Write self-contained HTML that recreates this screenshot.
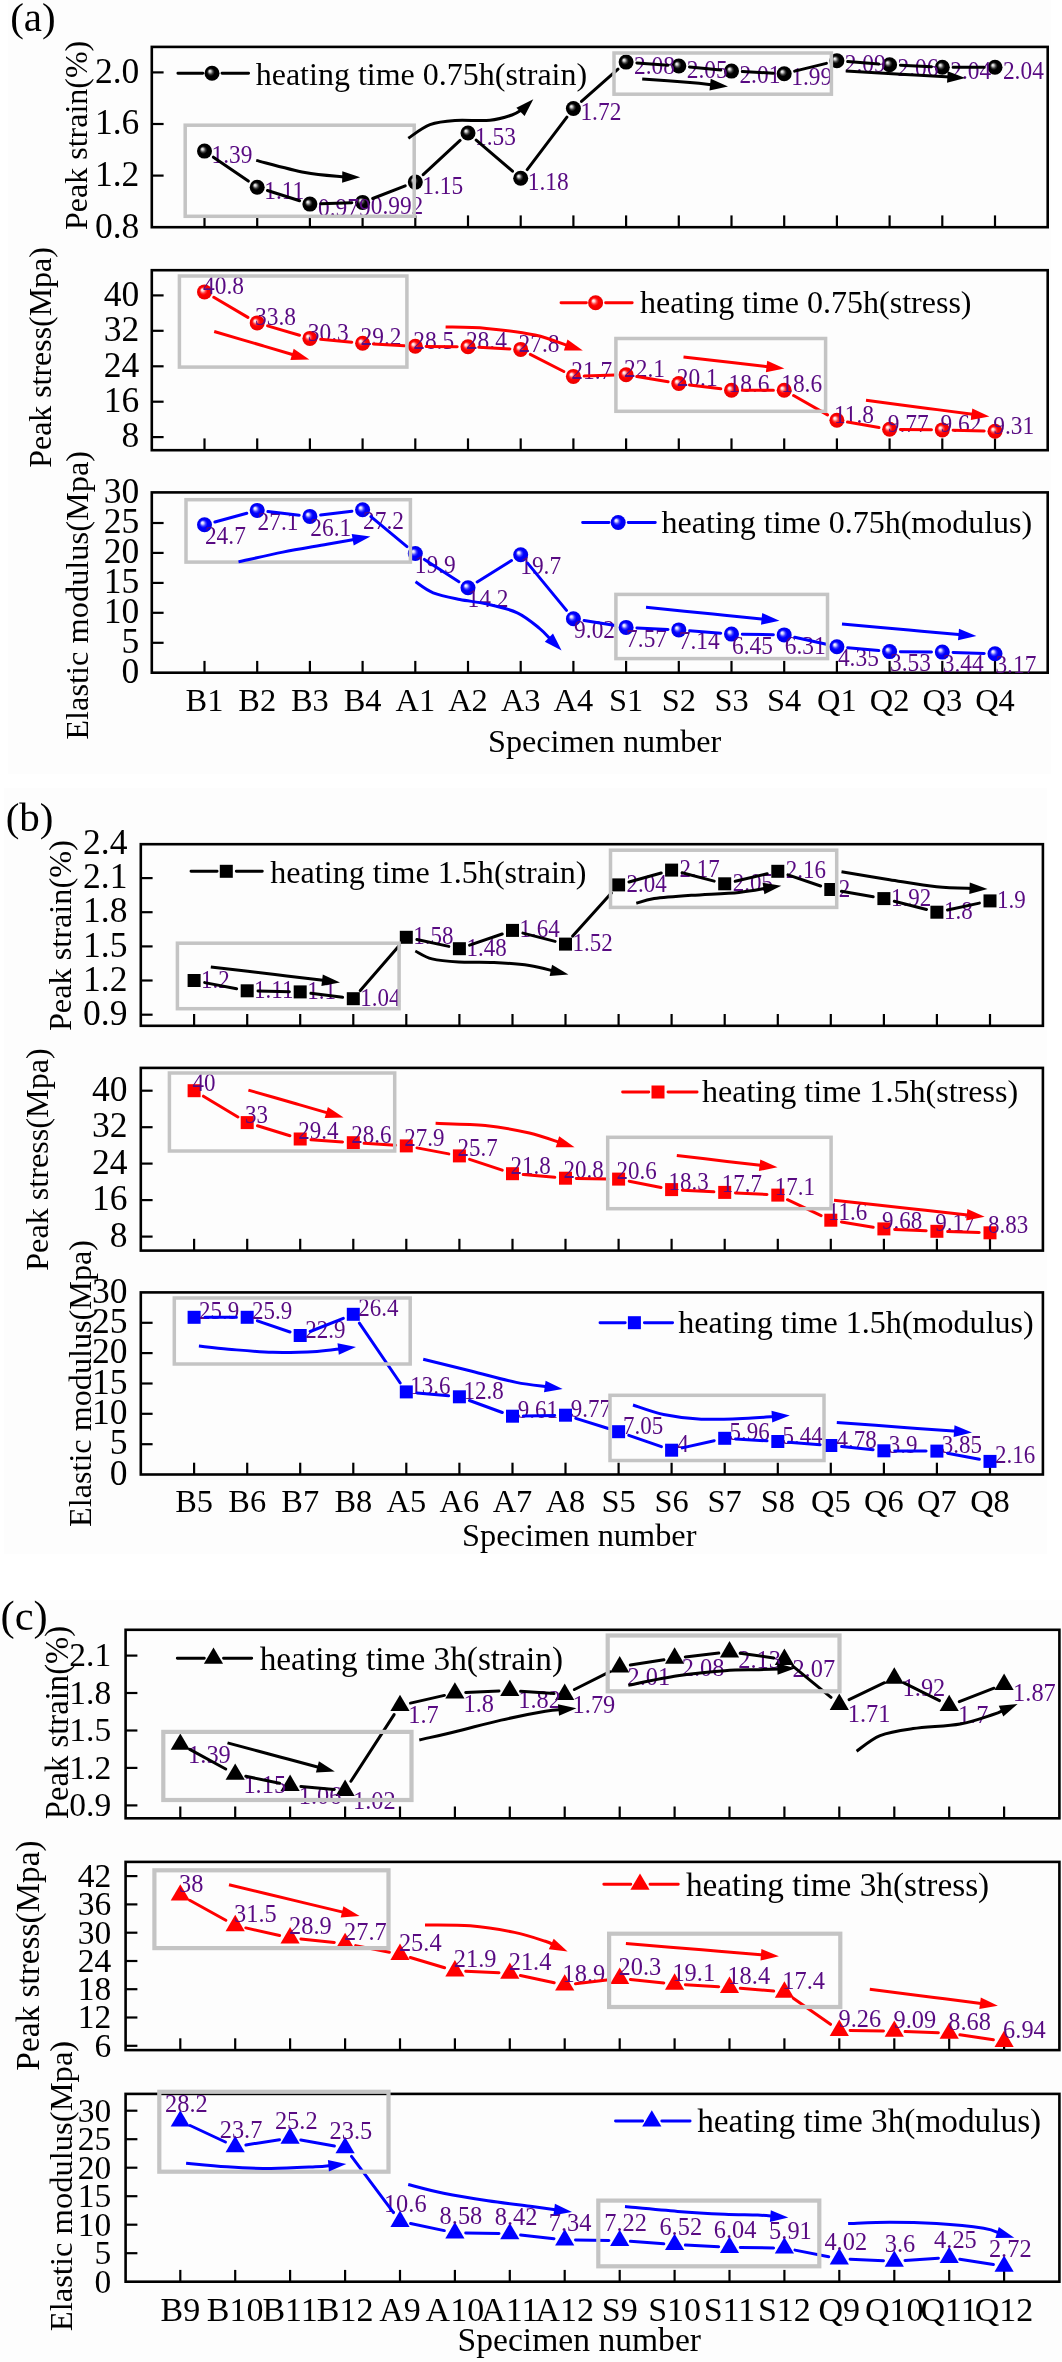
<!DOCTYPE html>
<html><head><meta charset="utf-8"><style>
html,body{margin:0;padding:0;background:#fff;}
svg{display:block;will-change:transform;}
text{font-family:"Liberation Serif",serif;}
</style></head><body>
<svg width="1062" height="2362" viewBox="0 0 1062 2362">
<defs>
<radialGradient id="gk" cx="0.5" cy="0.5" r="0.5" fx="0.34" fy="0.35"><stop offset="0" stop-color="#fff"/><stop offset="0.14" stop-color="#d0d0d0"/><stop offset="0.36" stop-color="#3a3a3a"/><stop offset="0.52" stop-color="#000"/><stop offset="1" stop-color="#000"/></radialGradient>
<radialGradient id="gr" cx="0.5" cy="0.5" r="0.5" fx="0.34" fy="0.35"><stop offset="0" stop-color="#fff"/><stop offset="0.15" stop-color="#ffd8d8"/><stop offset="0.38" stop-color="#ff3838"/><stop offset="0.55" stop-color="#f00"/><stop offset="1" stop-color="#ea0000"/></radialGradient>
<radialGradient id="gb" cx="0.5" cy="0.5" r="0.5" fx="0.34" fy="0.35"><stop offset="0" stop-color="#fff"/><stop offset="0.15" stop-color="#d8d8ff"/><stop offset="0.38" stop-color="#3838ff"/><stop offset="0.55" stop-color="#00f"/><stop offset="1" stop-color="#0000ea"/></radialGradient>
</defs>
<rect x="0" y="0" width="1062" height="2362" fill="#fff"/>
<rect x="8" y="0" width="1043" height="774" fill="#fdfdfd"/>
<rect x="4" y="788" width="1043" height="766" fill="#fdfdfd"/>
<rect x="0" y="1600" width="1062" height="762" fill="#fdfdfd"/>
<text x="10.2" y="31.0" font-size="41" fill="#000" text-anchor="start">(a)</text>
<rect x="151.8" y="46.9" width="895.9" height="180.3" fill="none" stroke="#000" stroke-width="2.6"/>
<line x1="204.5" y1="227.2" x2="204.5" y2="215.4" stroke="#000" stroke-width="2.2"/>
<line x1="257.2" y1="227.2" x2="257.2" y2="215.4" stroke="#000" stroke-width="2.2"/>
<line x1="309.9" y1="227.2" x2="309.9" y2="215.4" stroke="#000" stroke-width="2.2"/>
<line x1="362.6" y1="227.2" x2="362.6" y2="215.4" stroke="#000" stroke-width="2.2"/>
<line x1="415.3" y1="227.2" x2="415.3" y2="215.4" stroke="#000" stroke-width="2.2"/>
<line x1="468.0" y1="227.2" x2="468.0" y2="215.4" stroke="#000" stroke-width="2.2"/>
<line x1="520.7" y1="227.2" x2="520.7" y2="215.4" stroke="#000" stroke-width="2.2"/>
<line x1="573.4" y1="227.2" x2="573.4" y2="215.4" stroke="#000" stroke-width="2.2"/>
<line x1="626.1" y1="227.2" x2="626.1" y2="215.4" stroke="#000" stroke-width="2.2"/>
<line x1="678.8" y1="227.2" x2="678.8" y2="215.4" stroke="#000" stroke-width="2.2"/>
<line x1="731.5" y1="227.2" x2="731.5" y2="215.4" stroke="#000" stroke-width="2.2"/>
<line x1="784.2" y1="227.2" x2="784.2" y2="215.4" stroke="#000" stroke-width="2.2"/>
<line x1="836.9" y1="227.2" x2="836.9" y2="215.4" stroke="#000" stroke-width="2.2"/>
<line x1="889.6" y1="227.2" x2="889.6" y2="215.4" stroke="#000" stroke-width="2.2"/>
<line x1="942.3" y1="227.2" x2="942.3" y2="215.4" stroke="#000" stroke-width="2.2"/>
<line x1="995.0" y1="227.2" x2="995.0" y2="215.4" stroke="#000" stroke-width="2.2"/>
<line x1="151.8" y1="175.6" x2="163.6" y2="175.6" stroke="#000" stroke-width="2.2"/>
<line x1="151.8" y1="124.0" x2="163.6" y2="124.0" stroke="#000" stroke-width="2.2"/>
<line x1="151.8" y1="72.4" x2="163.6" y2="72.4" stroke="#000" stroke-width="2.2"/>
<text x="139.3" y="237.5" font-size="35.5" fill="#000" text-anchor="end">0.8</text>
<text x="139.3" y="185.9" font-size="35.5" fill="#000" text-anchor="end">1.2</text>
<text x="139.3" y="134.3" font-size="35.5" fill="#000" text-anchor="end">1.6</text>
<text x="139.3" y="82.7" font-size="35.5" fill="#000" text-anchor="end">2.0</text>
<text transform="translate(87.2,135.4) rotate(-90)" x="0" y="0" font-size="32.0" text-anchor="middle">Peak strain(%)</text>
<circle cx="204.5" cy="151.1" r="7.5" fill="url(#gk)"/>
<circle cx="257.2" cy="187.2" r="7.5" fill="url(#gk)"/>
<circle cx="309.9" cy="204.1" r="7.5" fill="url(#gk)"/>
<circle cx="362.6" cy="202.4" r="7.5" fill="url(#gk)"/>
<circle cx="415.3" cy="182.1" r="7.5" fill="url(#gk)"/>
<circle cx="468.0" cy="133.0" r="7.5" fill="url(#gk)"/>
<circle cx="520.7" cy="178.2" r="7.5" fill="url(#gk)"/>
<circle cx="573.4" cy="108.5" r="7.5" fill="url(#gk)"/>
<circle cx="626.1" cy="62.1" r="7.5" fill="url(#gk)"/>
<circle cx="678.8" cy="66.0" r="7.5" fill="url(#gk)"/>
<circle cx="731.5" cy="71.1" r="7.5" fill="url(#gk)"/>
<circle cx="784.2" cy="73.7" r="7.5" fill="url(#gk)"/>
<circle cx="836.9" cy="60.8" r="7.5" fill="url(#gk)"/>
<circle cx="889.6" cy="64.7" r="7.5" fill="url(#gk)"/>
<circle cx="942.3" cy="67.2" r="7.5" fill="url(#gk)"/>
<circle cx="995.0" cy="67.2" r="7.5" fill="url(#gk)"/>
<text transform="translate(211.5,162.6) scale(1,1.065)" font-size="23.4" fill="#580a82" text-anchor="start">1.39</text>
<text transform="translate(264.2,198.7) scale(1,1.065)" font-size="23.4" fill="#580a82" text-anchor="start">1.11</text>
<text transform="translate(318.0,215.6) scale(1,1.065)" font-size="23.4" fill="#580a82" text-anchor="start">0.979</text>
<text transform="translate(370.7,213.9) scale(1,1.065)" font-size="23.4" fill="#580a82" text-anchor="start">0.992</text>
<text transform="translate(422.3,193.6) scale(1,1.065)" font-size="23.4" fill="#580a82" text-anchor="start">1.15</text>
<text transform="translate(475.0,144.5) scale(1,1.065)" font-size="23.4" fill="#580a82" text-anchor="start">1.53</text>
<text transform="translate(527.7,189.7) scale(1,1.065)" font-size="23.4" fill="#580a82" text-anchor="start">1.18</text>
<text transform="translate(580.4,120.0) scale(1,1.065)" font-size="23.4" fill="#580a82" text-anchor="start">1.72</text>
<text transform="translate(634.0,73.6) scale(1,1.065)" font-size="23.4" fill="#580a82" text-anchor="start">2.08</text>
<text transform="translate(686.7,77.5) scale(1,1.065)" font-size="23.4" fill="#580a82" text-anchor="start">2.05</text>
<text transform="translate(739.4,82.6) scale(1,1.065)" font-size="23.4" fill="#580a82" text-anchor="start">2.01</text>
<text transform="translate(791.2,85.2) scale(1,1.065)" font-size="23.4" fill="#580a82" text-anchor="start">1.99</text>
<text transform="translate(844.8,72.3) scale(1,1.065)" font-size="23.4" fill="#580a82" text-anchor="start">2.09</text>
<text transform="translate(897.5,76.2) scale(1,1.065)" font-size="23.4" fill="#580a82" text-anchor="start">2.06</text>
<text transform="translate(950.2,78.7) scale(1,1.065)" font-size="23.4" fill="#580a82" text-anchor="start">2.04</text>
<text transform="translate(1002.9,78.7) scale(1,1.065)" font-size="23.4" fill="#580a82" text-anchor="start">2.04</text>
<path d="M213.4,157.2L248.3,181.1M267.5,190.5L299.6,200.8M320.7,203.8L351.8,202.8M372.7,198.5L405.2,185.9M423.2,174.7L460.1,140.4M476.2,140.1L512.5,171.2M527.2,169.6L566.9,117.1M581.5,101.4L618.0,69.2M636.9,62.9L668.0,65.2M689.5,67.0L720.8,70.1M742.3,71.6L773.4,73.2M794.7,71.1L826.4,63.4M847.7,61.6L878.8,63.9M900.4,65.2L931.5,66.7M953.1,67.2L984.2,67.2" stroke="#000" stroke-width="3.0" fill="none" stroke-linecap="round"/>
<rect x="185.2" y="125.2" width="229.0" height="91.1" fill="none" stroke="#c4c4c4" stroke-width="3.5"/>
<rect x="614.0" y="53.0" width="217.4" height="41.2" fill="none" stroke="#c4c4c4" stroke-width="3.5"/>
<path d="M256.2,160.4 C264.3,162.4 290.2,169.7 305.0,172.5 C319.8,175.3 338.3,176.2 345.0,177.0 C351.7,177.8 345.2,177.0 345.2,177.0" fill="none" stroke="#000" stroke-width="3.0" stroke-linecap="butt"/>
<polygon points="360.2,177.2 342.1,182.8 342.3,171.2" fill="#000"/>
<path d="M408.3,138.2 C411.9,135.9 422.2,127.7 430.0,124.7 C437.8,121.8 445.0,121.2 455.0,120.5 C465.0,119.8 480.5,121.2 490.0,120.3 C499.5,119.4 506.3,117.0 512.0,115.0 C517.7,113.0 522.2,109.4 524.0,108.5 C525.8,107.6 522.9,109.6 522.6,109.8" fill="none" stroke="#000" stroke-width="3.0" stroke-linecap="butt"/>
<polygon points="533.3,99.3 524.6,116.1 516.4,107.8" fill="#000"/>
<path d="M642.2,79.0 C650.2,79.6 678.2,81.5 690.0,82.5 C701.8,83.5 709.2,84.5 713.1,84.9" fill="none" stroke="#000" stroke-width="3.0" stroke-linecap="butt"/>
<polygon points="728.0,86.5 709.5,90.4 710.7,78.8" fill="#000"/>
<path d="M845.8,71.0 C855.7,71.6 887.6,73.5 905.0,74.5 C922.4,75.5 942.8,76.7 950.3,77.1" fill="none" stroke="#000" stroke-width="3.0" stroke-linecap="butt"/>
<polygon points="965.3,78.0 947.0,82.7 947.7,71.2" fill="#000"/>
<path d="M177.9,73.2H202.8M222.0,73.2H248.6" stroke="#000" stroke-width="2.9" stroke-linecap="round" fill="none"/>
<circle cx="212.0" cy="73.2" r="7.5" fill="url(#gk)"/>
<text x="255.7" y="85.3" font-size="32" fill="#000" text-anchor="start">heating time 0.75h(strain)</text>
<rect x="151.8" y="270.2" width="895.9" height="180.0" fill="none" stroke="#000" stroke-width="2.6"/>
<line x1="204.5" y1="450.2" x2="204.5" y2="438.4" stroke="#000" stroke-width="2.2"/>
<line x1="257.2" y1="450.2" x2="257.2" y2="438.4" stroke="#000" stroke-width="2.2"/>
<line x1="309.9" y1="450.2" x2="309.9" y2="438.4" stroke="#000" stroke-width="2.2"/>
<line x1="362.6" y1="450.2" x2="362.6" y2="438.4" stroke="#000" stroke-width="2.2"/>
<line x1="415.3" y1="450.2" x2="415.3" y2="438.4" stroke="#000" stroke-width="2.2"/>
<line x1="468.0" y1="450.2" x2="468.0" y2="438.4" stroke="#000" stroke-width="2.2"/>
<line x1="520.7" y1="450.2" x2="520.7" y2="438.4" stroke="#000" stroke-width="2.2"/>
<line x1="573.4" y1="450.2" x2="573.4" y2="438.4" stroke="#000" stroke-width="2.2"/>
<line x1="626.1" y1="450.2" x2="626.1" y2="438.4" stroke="#000" stroke-width="2.2"/>
<line x1="678.8" y1="450.2" x2="678.8" y2="438.4" stroke="#000" stroke-width="2.2"/>
<line x1="731.5" y1="450.2" x2="731.5" y2="438.4" stroke="#000" stroke-width="2.2"/>
<line x1="784.2" y1="450.2" x2="784.2" y2="438.4" stroke="#000" stroke-width="2.2"/>
<line x1="836.9" y1="450.2" x2="836.9" y2="438.4" stroke="#000" stroke-width="2.2"/>
<line x1="889.6" y1="450.2" x2="889.6" y2="438.4" stroke="#000" stroke-width="2.2"/>
<line x1="942.3" y1="450.2" x2="942.3" y2="438.4" stroke="#000" stroke-width="2.2"/>
<line x1="995.0" y1="450.2" x2="995.0" y2="438.4" stroke="#000" stroke-width="2.2"/>
<line x1="151.8" y1="437.1" x2="163.6" y2="437.1" stroke="#000" stroke-width="2.2"/>
<line x1="151.8" y1="401.7" x2="163.6" y2="401.7" stroke="#000" stroke-width="2.2"/>
<line x1="151.8" y1="366.3" x2="163.6" y2="366.3" stroke="#000" stroke-width="2.2"/>
<line x1="151.8" y1="330.8" x2="163.6" y2="330.8" stroke="#000" stroke-width="2.2"/>
<line x1="151.8" y1="295.4" x2="163.6" y2="295.4" stroke="#000" stroke-width="2.2"/>
<text x="139.3" y="447.4" font-size="35.5" fill="#000" text-anchor="end">8</text>
<text x="139.3" y="412.0" font-size="35.5" fill="#000" text-anchor="end">16</text>
<text x="139.3" y="376.6" font-size="35.5" fill="#000" text-anchor="end">24</text>
<text x="139.3" y="341.1" font-size="35.5" fill="#000" text-anchor="end">32</text>
<text x="139.3" y="305.7" font-size="35.5" fill="#000" text-anchor="end">40</text>
<text transform="translate(50.5,357.5) rotate(-90)" x="0" y="0" font-size="31.9" text-anchor="middle">Peak stress(Mpa)</text>
<circle cx="204.5" cy="291.9" r="7.5" fill="url(#gr)"/>
<circle cx="257.2" cy="322.9" r="7.5" fill="url(#gr)"/>
<circle cx="309.9" cy="338.4" r="7.5" fill="url(#gr)"/>
<circle cx="362.6" cy="343.2" r="7.5" fill="url(#gr)"/>
<circle cx="415.3" cy="346.3" r="7.5" fill="url(#gr)"/>
<circle cx="468.0" cy="346.8" r="7.5" fill="url(#gr)"/>
<circle cx="520.7" cy="349.4" r="7.5" fill="url(#gr)"/>
<circle cx="573.4" cy="376.4" r="7.5" fill="url(#gr)"/>
<circle cx="626.1" cy="374.7" r="7.5" fill="url(#gr)"/>
<circle cx="678.8" cy="383.5" r="7.5" fill="url(#gr)"/>
<circle cx="731.5" cy="390.2" r="7.5" fill="url(#gr)"/>
<circle cx="784.2" cy="390.2" r="7.5" fill="url(#gr)"/>
<circle cx="836.9" cy="420.3" r="7.5" fill="url(#gr)"/>
<circle cx="889.6" cy="429.3" r="7.5" fill="url(#gr)"/>
<circle cx="942.3" cy="429.9" r="7.5" fill="url(#gr)"/>
<circle cx="995.0" cy="431.3" r="7.5" fill="url(#gr)"/>
<text transform="translate(203.0,294.1) scale(1,1.065)" font-size="23.4" fill="#580a82" text-anchor="start">40.8</text>
<text transform="translate(255.1,325.1) scale(1,1.065)" font-size="23.4" fill="#580a82" text-anchor="start">33.8</text>
<text transform="translate(307.8,340.6) scale(1,1.065)" font-size="23.4" fill="#580a82" text-anchor="start">30.3</text>
<text transform="translate(360.5,345.4) scale(1,1.065)" font-size="23.4" fill="#580a82" text-anchor="start">29.2</text>
<text transform="translate(413.2,348.5) scale(1,1.065)" font-size="23.4" fill="#580a82" text-anchor="start">28.5</text>
<text transform="translate(465.9,349.0) scale(1,1.065)" font-size="23.4" fill="#580a82" text-anchor="start">28.4</text>
<text transform="translate(518.6,351.6) scale(1,1.065)" font-size="23.4" fill="#580a82" text-anchor="start">27.8</text>
<text transform="translate(571.3,378.6) scale(1,1.065)" font-size="23.4" fill="#580a82" text-anchor="start">21.7</text>
<text transform="translate(624.0,376.9) scale(1,1.065)" font-size="23.4" fill="#580a82" text-anchor="start">22.1</text>
<text transform="translate(676.7,385.7) scale(1,1.065)" font-size="23.4" fill="#580a82" text-anchor="start">20.1</text>
<text transform="translate(728.5,392.4) scale(1,1.065)" font-size="23.4" fill="#580a82" text-anchor="start">18.6</text>
<text transform="translate(781.2,392.4) scale(1,1.065)" font-size="23.4" fill="#580a82" text-anchor="start">18.6</text>
<text transform="translate(833.9,422.5) scale(1,1.065)" font-size="23.4" fill="#580a82" text-anchor="start">11.8</text>
<text transform="translate(887.8,431.5) scale(1,1.065)" font-size="23.4" fill="#580a82" text-anchor="start">9.77</text>
<text transform="translate(940.5,432.1) scale(1,1.065)" font-size="23.4" fill="#580a82" text-anchor="start">9.62</text>
<text transform="translate(993.2,433.5) scale(1,1.065)" font-size="23.4" fill="#580a82" text-anchor="start">9.31</text>
<path d="M213.8,297.3L247.9,317.4M267.6,325.9L299.5,335.3M320.7,339.3L351.8,342.2M373.4,343.9L404.5,345.7M426.1,346.4L457.2,346.7M478.8,347.3L509.9,348.9M530.3,354.4L563.8,371.5M584.2,376.1L615.3,375.0M636.8,376.5L668.1,381.7M689.5,384.9L720.8,388.8M742.3,390.2L773.4,390.2M793.6,395.5L827.5,414.9M847.5,422.1L879.0,427.4M900.4,429.4L931.5,429.8M953.1,430.2L984.2,431.0" stroke="#f00" stroke-width="3.0" fill="none" stroke-linecap="round"/>
<rect x="179.4" y="276.0" width="227.5" height="91.1" fill="none" stroke="#c4c4c4" stroke-width="3.5"/>
<rect x="615.9" y="338.5" width="209.7" height="72.8" fill="none" stroke="#c4c4c4" stroke-width="3.5"/>
<path d="M214.2,331.5 C222.2,333.8 248.5,341.6 262.0,345.5 C275.5,349.4 289.4,353.6 294.9,355.2" fill="none" stroke="#f00" stroke-width="3.0" stroke-linecap="butt"/>
<polygon points="309.3,359.4 290.4,359.9 293.7,348.8" fill="#f00"/>
<path d="M445.6,327.0 C452.4,327.2 471.5,327.1 486.4,328.4 C501.3,329.7 521.3,332.1 535.0,335.0 C548.7,337.9 562.9,344.1 568.5,345.9" fill="none" stroke="#f00" stroke-width="3.0" stroke-linecap="butt"/>
<polygon points="582.8,350.5 563.9,350.5 567.5,339.4" fill="#f00"/>
<path d="M683.5,357.1 C691.9,358.1 719.7,361.2 734.0,362.8 C748.3,364.4 763.6,366.2 769.5,366.9" fill="none" stroke="#f00" stroke-width="3.0" stroke-linecap="butt"/>
<polygon points="784.4,368.6 765.9,372.3 767.2,360.8" fill="#f00"/>
<path d="M866.0,400.3 C876.3,401.6 909.9,406.0 928.0,408.4 C946.1,410.8 966.8,413.6 974.5,414.6" fill="none" stroke="#f00" stroke-width="3.0" stroke-linecap="butt"/>
<polygon points="989.4,416.6 970.8,420.0 972.3,408.5" fill="#f00"/>
<path d="M561.0,302.8H586.4M605.6,302.8H632.2" stroke="#f00" stroke-width="2.9" stroke-linecap="round" fill="none"/>
<circle cx="595.6" cy="302.8" r="7.5" fill="url(#gr)"/>
<text x="640.0" y="313.4" font-size="32" fill="#000" text-anchor="start">heating time 0.75h(stress)</text>
<rect x="151.8" y="492.4" width="895.9" height="180.3" fill="none" stroke="#000" stroke-width="2.6"/>
<line x1="204.5" y1="672.7" x2="204.5" y2="660.9" stroke="#000" stroke-width="2.2"/>
<line x1="257.2" y1="672.7" x2="257.2" y2="660.9" stroke="#000" stroke-width="2.2"/>
<line x1="309.9" y1="672.7" x2="309.9" y2="660.9" stroke="#000" stroke-width="2.2"/>
<line x1="362.6" y1="672.7" x2="362.6" y2="660.9" stroke="#000" stroke-width="2.2"/>
<line x1="415.3" y1="672.7" x2="415.3" y2="660.9" stroke="#000" stroke-width="2.2"/>
<line x1="468.0" y1="672.7" x2="468.0" y2="660.9" stroke="#000" stroke-width="2.2"/>
<line x1="520.7" y1="672.7" x2="520.7" y2="660.9" stroke="#000" stroke-width="2.2"/>
<line x1="573.4" y1="672.7" x2="573.4" y2="660.9" stroke="#000" stroke-width="2.2"/>
<line x1="626.1" y1="672.7" x2="626.1" y2="660.9" stroke="#000" stroke-width="2.2"/>
<line x1="678.8" y1="672.7" x2="678.8" y2="660.9" stroke="#000" stroke-width="2.2"/>
<line x1="731.5" y1="672.7" x2="731.5" y2="660.9" stroke="#000" stroke-width="2.2"/>
<line x1="784.2" y1="672.7" x2="784.2" y2="660.9" stroke="#000" stroke-width="2.2"/>
<line x1="836.9" y1="672.7" x2="836.9" y2="660.9" stroke="#000" stroke-width="2.2"/>
<line x1="889.6" y1="672.7" x2="889.6" y2="660.9" stroke="#000" stroke-width="2.2"/>
<line x1="942.3" y1="672.7" x2="942.3" y2="660.9" stroke="#000" stroke-width="2.2"/>
<line x1="995.0" y1="672.7" x2="995.0" y2="660.9" stroke="#000" stroke-width="2.2"/>
<line x1="151.8" y1="642.8" x2="163.6" y2="642.8" stroke="#000" stroke-width="2.2"/>
<line x1="151.8" y1="612.8" x2="163.6" y2="612.8" stroke="#000" stroke-width="2.2"/>
<line x1="151.8" y1="582.9" x2="163.6" y2="582.9" stroke="#000" stroke-width="2.2"/>
<line x1="151.8" y1="552.9" x2="163.6" y2="552.9" stroke="#000" stroke-width="2.2"/>
<line x1="151.8" y1="523.0" x2="163.6" y2="523.0" stroke="#000" stroke-width="2.2"/>
<text x="139.3" y="683.0" font-size="35.5" fill="#000" text-anchor="end">0</text>
<text x="139.3" y="653.1" font-size="35.5" fill="#000" text-anchor="end">5</text>
<text x="139.3" y="623.1" font-size="35.5" fill="#000" text-anchor="end">10</text>
<text x="139.3" y="593.2" font-size="35.5" fill="#000" text-anchor="end">15</text>
<text x="139.3" y="563.2" font-size="35.5" fill="#000" text-anchor="end">20</text>
<text x="139.3" y="533.3" font-size="35.5" fill="#000" text-anchor="end">25</text>
<text x="139.3" y="503.4" font-size="35.5" fill="#000" text-anchor="end">30</text>
<text transform="translate(88.0,595.3) rotate(-90)" x="0" y="0" font-size="32.4" text-anchor="middle">Elastic modulus(Mpa)</text>
<circle cx="204.5" cy="524.8" r="7.5" fill="url(#gb)"/>
<circle cx="257.2" cy="510.4" r="7.5" fill="url(#gb)"/>
<circle cx="309.9" cy="516.4" r="7.5" fill="url(#gb)"/>
<circle cx="362.6" cy="509.8" r="7.5" fill="url(#gb)"/>
<circle cx="415.3" cy="553.5" r="7.5" fill="url(#gb)"/>
<circle cx="468.0" cy="587.7" r="7.5" fill="url(#gb)"/>
<circle cx="520.7" cy="554.7" r="7.5" fill="url(#gb)"/>
<circle cx="573.4" cy="618.7" r="7.5" fill="url(#gb)"/>
<circle cx="626.1" cy="627.4" r="7.5" fill="url(#gb)"/>
<circle cx="678.8" cy="629.9" r="7.5" fill="url(#gb)"/>
<circle cx="731.5" cy="634.1" r="7.5" fill="url(#gb)"/>
<circle cx="784.2" cy="634.9" r="7.5" fill="url(#gb)"/>
<circle cx="836.9" cy="646.7" r="7.5" fill="url(#gb)"/>
<circle cx="889.6" cy="651.6" r="7.5" fill="url(#gb)"/>
<circle cx="942.3" cy="652.1" r="7.5" fill="url(#gb)"/>
<circle cx="995.0" cy="653.7" r="7.5" fill="url(#gb)"/>
<text transform="translate(204.9,544.3) scale(1,1.065)" font-size="23.4" fill="#580a82" text-anchor="start">24.7</text>
<text transform="translate(257.6,529.9) scale(1,1.065)" font-size="23.4" fill="#580a82" text-anchor="start">27.1</text>
<text transform="translate(310.3,535.9) scale(1,1.065)" font-size="23.4" fill="#580a82" text-anchor="start">26.1</text>
<text transform="translate(363.0,529.3) scale(1,1.065)" font-size="23.4" fill="#580a82" text-anchor="start">27.2</text>
<text transform="translate(414.8,573.0) scale(1,1.065)" font-size="23.4" fill="#580a82" text-anchor="start">19.9</text>
<text transform="translate(467.5,607.2) scale(1,1.065)" font-size="23.4" fill="#580a82" text-anchor="start">14.2</text>
<text transform="translate(520.2,574.2) scale(1,1.065)" font-size="23.4" fill="#580a82" text-anchor="start">19.7</text>
<text transform="translate(574.1,638.2) scale(1,1.065)" font-size="23.4" fill="#580a82" text-anchor="start">9.02</text>
<text transform="translate(626.1,646.9) scale(1,1.065)" font-size="23.4" fill="#580a82" text-anchor="start">7.57</text>
<text transform="translate(678.8,649.4) scale(1,1.065)" font-size="23.4" fill="#580a82" text-anchor="start">7.14</text>
<text transform="translate(732.0,653.6) scale(1,1.065)" font-size="23.4" fill="#580a82" text-anchor="start">6.45</text>
<text transform="translate(784.7,654.4) scale(1,1.065)" font-size="23.4" fill="#580a82" text-anchor="start">6.31</text>
<text transform="translate(837.9,666.2) scale(1,1.065)" font-size="23.4" fill="#580a82" text-anchor="start">4.35</text>
<text transform="translate(890.0,671.1) scale(1,1.065)" font-size="23.4" fill="#580a82" text-anchor="start">3.53</text>
<text transform="translate(942.7,671.6) scale(1,1.065)" font-size="23.4" fill="#580a82" text-anchor="start">3.44</text>
<text transform="translate(995.4,673.2) scale(1,1.065)" font-size="23.4" fill="#580a82" text-anchor="start">3.17</text>
<path d="M214.9,522.0L246.8,513.3M267.9,511.6L299.2,515.2M320.6,515.1L351.9,511.2M370.9,516.7L407.0,546.6M424.4,559.4L458.9,581.8M477.2,581.9L511.5,560.5M527.6,563.1L566.5,610.4M584.1,620.4L615.4,625.6M636.9,627.9L668.0,629.4M689.6,630.8L720.7,633.2M742.3,634.2L773.4,634.7M794.7,637.3L826.4,644.3M847.7,647.7L878.8,650.6M900.4,651.7L931.5,652.0M953.1,652.4L984.2,653.4" stroke="#00f" stroke-width="3.0" fill="none" stroke-linecap="round"/>
<rect x="186.0" y="499.7" width="224.4" height="62.4" fill="none" stroke="#c4c4c4" stroke-width="3.5"/>
<rect x="615.9" y="594.4" width="211.6" height="64.2" fill="none" stroke="#c4c4c4" stroke-width="3.5"/>
<path d="M238.5,561.9 C245.9,560.3 268.1,555.0 282.8,552.1 C297.6,549.2 314.9,546.4 327.0,544.2 C339.1,542.0 350.9,540.0 355.6,539.2" fill="none" stroke="#00f" stroke-width="3.0" stroke-linecap="butt"/>
<polygon points="370.4,536.6 353.7,545.4 351.7,534.0" fill="#00f"/>
<path d="M415.5,581.8 C418.4,583.6 425.8,589.9 433.2,592.9 C440.6,595.9 450.9,597.7 459.8,599.5 C468.7,601.3 476.8,601.7 486.4,603.9 C496.0,606.1 508.4,608.7 517.3,612.8 C526.1,616.9 533.9,623.8 539.5,628.3 C545.1,632.8 549.1,637.9 551.0,639.8" fill="none" stroke="#00f" stroke-width="3.0" stroke-linecap="butt"/>
<polygon points="561.6,650.4 544.8,641.8 553.0,633.6" fill="#00f"/>
<path d="M646.0,607.3 C657.2,608.4 693.2,612.0 713.0,614.0 C732.8,616.0 756.0,618.3 764.6,619.2" fill="none" stroke="#00f" stroke-width="3.0" stroke-linecap="butt"/>
<polygon points="779.5,620.7 761.0,624.7 762.2,613.1" fill="#00f"/>
<path d="M842.0,624.1 C853.2,625.1 889.1,628.3 909.0,630.1 C928.9,631.9 952.7,634.0 961.5,634.8" fill="none" stroke="#00f" stroke-width="3.0" stroke-linecap="butt"/>
<polygon points="976.4,636.1 958.0,640.3 959.0,628.7" fill="#00f"/>
<path d="M582.6,522.5H609.0M628.2,522.5H655.3" stroke="#00f" stroke-width="2.9" stroke-linecap="round" fill="none"/>
<circle cx="618.2" cy="522.5" r="7.5" fill="url(#gb)"/>
<text x="661.6" y="532.9" font-size="32" fill="#000" text-anchor="start">heating time 0.75h(modulus)</text>
<text x="204.5" y="710.5" font-size="32.4" fill="#000" text-anchor="middle">B1</text>
<text x="257.2" y="710.5" font-size="32.4" fill="#000" text-anchor="middle">B2</text>
<text x="309.9" y="710.5" font-size="32.4" fill="#000" text-anchor="middle">B3</text>
<text x="362.6" y="710.5" font-size="32.4" fill="#000" text-anchor="middle">B4</text>
<text x="415.3" y="710.5" font-size="32.4" fill="#000" text-anchor="middle">A1</text>
<text x="468.0" y="710.5" font-size="32.4" fill="#000" text-anchor="middle">A2</text>
<text x="520.7" y="710.5" font-size="32.4" fill="#000" text-anchor="middle">A3</text>
<text x="573.4" y="710.5" font-size="32.4" fill="#000" text-anchor="middle">A4</text>
<text x="626.1" y="710.5" font-size="32.4" fill="#000" text-anchor="middle">S1</text>
<text x="678.8" y="710.5" font-size="32.4" fill="#000" text-anchor="middle">S2</text>
<text x="731.5" y="710.5" font-size="32.4" fill="#000" text-anchor="middle">S3</text>
<text x="784.2" y="710.5" font-size="32.4" fill="#000" text-anchor="middle">S4</text>
<text x="836.9" y="710.5" font-size="32.4" fill="#000" text-anchor="middle">Q1</text>
<text x="889.6" y="710.5" font-size="32.4" fill="#000" text-anchor="middle">Q2</text>
<text x="942.3" y="710.5" font-size="32.4" fill="#000" text-anchor="middle">Q3</text>
<text x="995.0" y="710.5" font-size="32.4" fill="#000" text-anchor="middle">Q4</text>
<text x="488.0" y="751.9" font-size="32.2" fill="#000" text-anchor="start">Specimen number</text>
<text x="5.7" y="830.5" font-size="41" fill="#000" text-anchor="start">(b)</text>
<rect x="140.8" y="844.2" width="902.1" height="181.6" fill="none" stroke="#000" stroke-width="2.6"/>
<line x1="194.1" y1="1025.8" x2="194.1" y2="1014.0" stroke="#000" stroke-width="2.2"/>
<line x1="247.2" y1="1025.8" x2="247.2" y2="1014.0" stroke="#000" stroke-width="2.2"/>
<line x1="300.2" y1="1025.8" x2="300.2" y2="1014.0" stroke="#000" stroke-width="2.2"/>
<line x1="353.3" y1="1025.8" x2="353.3" y2="1014.0" stroke="#000" stroke-width="2.2"/>
<line x1="406.3" y1="1025.8" x2="406.3" y2="1014.0" stroke="#000" stroke-width="2.2"/>
<line x1="459.4" y1="1025.8" x2="459.4" y2="1014.0" stroke="#000" stroke-width="2.2"/>
<line x1="512.5" y1="1025.8" x2="512.5" y2="1014.0" stroke="#000" stroke-width="2.2"/>
<line x1="565.5" y1="1025.8" x2="565.5" y2="1014.0" stroke="#000" stroke-width="2.2"/>
<line x1="618.6" y1="1025.8" x2="618.6" y2="1014.0" stroke="#000" stroke-width="2.2"/>
<line x1="671.6" y1="1025.8" x2="671.6" y2="1014.0" stroke="#000" stroke-width="2.2"/>
<line x1="724.7" y1="1025.8" x2="724.7" y2="1014.0" stroke="#000" stroke-width="2.2"/>
<line x1="777.8" y1="1025.8" x2="777.8" y2="1014.0" stroke="#000" stroke-width="2.2"/>
<line x1="830.8" y1="1025.8" x2="830.8" y2="1014.0" stroke="#000" stroke-width="2.2"/>
<line x1="883.9" y1="1025.8" x2="883.9" y2="1014.0" stroke="#000" stroke-width="2.2"/>
<line x1="936.9" y1="1025.8" x2="936.9" y2="1014.0" stroke="#000" stroke-width="2.2"/>
<line x1="990.0" y1="1025.8" x2="990.0" y2="1014.0" stroke="#000" stroke-width="2.2"/>
<line x1="140.8" y1="1014.7" x2="152.6" y2="1014.7" stroke="#000" stroke-width="2.2"/>
<line x1="140.8" y1="980.5" x2="152.6" y2="980.5" stroke="#000" stroke-width="2.2"/>
<line x1="140.8" y1="946.4" x2="152.6" y2="946.4" stroke="#000" stroke-width="2.2"/>
<line x1="140.8" y1="912.2" x2="152.6" y2="912.2" stroke="#000" stroke-width="2.2"/>
<line x1="140.8" y1="878.1" x2="152.6" y2="878.1" stroke="#000" stroke-width="2.2"/>
<text x="127.4" y="1024.9" font-size="35.5" fill="#000" text-anchor="end">0.9</text>
<text x="127.4" y="990.7" font-size="35.5" fill="#000" text-anchor="end">1.2</text>
<text x="127.4" y="956.6" font-size="35.5" fill="#000" text-anchor="end">1.5</text>
<text x="127.4" y="922.4" font-size="35.5" fill="#000" text-anchor="end">1.8</text>
<text x="127.4" y="888.3" font-size="35.5" fill="#000" text-anchor="end">2.1</text>
<text x="127.4" y="854.2" font-size="35.5" fill="#000" text-anchor="end">2.4</text>
<text transform="translate(71.2,935.6) rotate(-90)" x="0" y="0" font-size="32.3" text-anchor="middle">Peak strain(%)</text>
<rect x="187.6" y="974.0" width="13.0" height="13.0" fill="#000"/>
<rect x="240.7" y="984.3" width="13.0" height="13.0" fill="#000"/>
<rect x="293.7" y="985.4" width="13.0" height="13.0" fill="#000"/>
<rect x="346.8" y="992.2" width="13.0" height="13.0" fill="#000"/>
<rect x="399.8" y="930.8" width="13.0" height="13.0" fill="#000"/>
<rect x="452.9" y="942.2" width="13.0" height="13.0" fill="#000"/>
<rect x="506.0" y="923.9" width="13.0" height="13.0" fill="#000"/>
<rect x="559.0" y="937.6" width="13.0" height="13.0" fill="#000"/>
<rect x="612.1" y="878.4" width="13.0" height="13.0" fill="#000"/>
<rect x="665.1" y="863.6" width="13.0" height="13.0" fill="#000"/>
<rect x="718.2" y="877.3" width="13.0" height="13.0" fill="#000"/>
<rect x="771.3" y="864.8" width="13.0" height="13.0" fill="#000"/>
<rect x="824.3" y="883.0" width="13.0" height="13.0" fill="#000"/>
<rect x="877.4" y="892.1" width="13.0" height="13.0" fill="#000"/>
<rect x="930.4" y="905.7" width="13.0" height="13.0" fill="#000"/>
<rect x="983.5" y="894.4" width="13.0" height="13.0" fill="#000"/>
<text transform="translate(201.1,987.5) scale(1,1.065)" font-size="23.0" fill="#580a82" text-anchor="start">1.2</text>
<text transform="translate(254.1,997.8) scale(1,1.065)" font-size="23.0" fill="#580a82" text-anchor="start">1.11</text>
<text transform="translate(307.2,998.9) scale(1,1.065)" font-size="23.0" fill="#580a82" text-anchor="start">1.1</text>
<text transform="translate(360.3,1005.7) scale(1,1.065)" font-size="23.0" fill="#580a82" text-anchor="start">1.04</text>
<text transform="translate(413.3,944.3) scale(1,1.065)" font-size="23.0" fill="#580a82" text-anchor="start">1.58</text>
<text transform="translate(466.4,955.7) scale(1,1.065)" font-size="23.0" fill="#580a82" text-anchor="start">1.48</text>
<text transform="translate(519.4,937.4) scale(1,1.065)" font-size="23.0" fill="#580a82" text-anchor="start">1.64</text>
<text transform="translate(572.5,951.1) scale(1,1.065)" font-size="23.0" fill="#580a82" text-anchor="start">1.52</text>
<text transform="translate(626.5,891.9) scale(1,1.065)" font-size="23.0" fill="#580a82" text-anchor="start">2.04</text>
<text transform="translate(679.6,877.1) scale(1,1.065)" font-size="23.0" fill="#580a82" text-anchor="start">2.17</text>
<text transform="translate(732.7,890.8) scale(1,1.065)" font-size="23.0" fill="#580a82" text-anchor="start">2.05</text>
<text transform="translate(785.7,878.3) scale(1,1.065)" font-size="23.0" fill="#580a82" text-anchor="start">2.16</text>
<text transform="translate(838.8,896.5) scale(1,1.065)" font-size="23.0" fill="#580a82" text-anchor="start">2</text>
<text transform="translate(890.9,905.6) scale(1,1.065)" font-size="23.0" fill="#580a82" text-anchor="start">1.92</text>
<text transform="translate(943.9,919.2) scale(1,1.065)" font-size="23.0" fill="#580a82" text-anchor="start">1.8</text>
<text transform="translate(997.0,907.9) scale(1,1.065)" font-size="23.0" fill="#580a82" text-anchor="start">1.9</text>
<path d="M204.7,982.6L236.6,988.7M258.0,991.0L289.4,991.7M310.9,993.3L342.6,997.3M360.3,990.6L399.3,945.5M416.9,939.5L448.8,946.4M469.6,945.2L502.2,934.0M522.9,933.1L555.1,941.4M572.7,936.1L611.4,893.0M629.0,882.0L661.2,873.0M682.1,872.8L714.2,881.1M735.2,881.3L767.2,873.8M788.0,874.8L820.6,886.0M841.5,891.3L873.2,896.8M894.3,901.3L926.5,909.5M947.5,910.0L979.4,903.1" stroke="#000" stroke-width="3.0" fill="none" stroke-linecap="round"/>
<rect x="177.4" y="943.2" width="221.7" height="65.5" fill="none" stroke="#c4c4c4" stroke-width="3.5"/>
<rect x="610.5" y="850.2" width="226.2" height="57.2" fill="none" stroke="#c4c4c4" stroke-width="3.5"/>
<path d="M210.8,966.9 C221.5,968.2 255.9,972.3 275.0,974.6 C294.1,976.9 316.8,979.6 325.1,980.6" fill="none" stroke="#000" stroke-width="3.0" stroke-linecap="butt"/>
<polygon points="340.0,982.4 321.4,986.0 322.8,974.5" fill="#000"/>
<path d="M415.3,951.0 C418.1,952.3 424.8,957.1 432.0,958.9 C439.2,960.7 448.3,961.4 458.6,962.0 C468.9,962.6 482.2,961.9 494.0,962.5 C505.8,963.1 519.4,964.1 529.4,965.5 C539.4,966.9 549.7,970.1 553.8,971.1" fill="none" stroke="#000" stroke-width="3.0" stroke-linecap="butt"/>
<polygon points="568.4,974.4 549.6,976.0 552.1,964.7" fill="#000"/>
<path d="M636.3,903.3 C639.3,902.5 645.0,899.9 654.2,898.6 C663.5,897.3 677.7,896.3 691.8,895.3 C705.9,894.3 726.5,893.6 738.9,892.4 C751.3,891.2 761.9,888.8 766.5,888.1" fill="none" stroke="#000" stroke-width="3.0" stroke-linecap="butt"/>
<polygon points="781.3,885.8 764.4,894.3 762.6,882.8" fill="#000"/>
<path d="M841.5,871.7 C849.5,873.0 873.8,877.2 889.6,879.7 C905.5,882.2 922.8,885.3 936.6,886.8 C950.4,888.3 966.5,888.2 972.5,888.4" fill="none" stroke="#000" stroke-width="3.0" stroke-linecap="butt"/>
<polygon points="987.5,889.1 969.3,894.1 969.8,882.5" fill="#000"/>
<path d="M191.0,871.3H217.1M236.3,871.3H262.3" stroke="#000" stroke-width="2.9" stroke-linecap="round" fill="none"/>
<rect x="219.8" y="864.8" width="13.0" height="13.0" fill="#000"/>
<text x="270.3" y="882.5" font-size="32.1" fill="#000" text-anchor="start">heating time 1.5h(strain)</text>
<rect x="140.8" y="1067.9" width="902.1" height="182.7" fill="none" stroke="#000" stroke-width="2.6"/>
<line x1="194.1" y1="1250.6" x2="194.1" y2="1238.8" stroke="#000" stroke-width="2.2"/>
<line x1="247.2" y1="1250.6" x2="247.2" y2="1238.8" stroke="#000" stroke-width="2.2"/>
<line x1="300.2" y1="1250.6" x2="300.2" y2="1238.8" stroke="#000" stroke-width="2.2"/>
<line x1="353.3" y1="1250.6" x2="353.3" y2="1238.8" stroke="#000" stroke-width="2.2"/>
<line x1="406.3" y1="1250.6" x2="406.3" y2="1238.8" stroke="#000" stroke-width="2.2"/>
<line x1="459.4" y1="1250.6" x2="459.4" y2="1238.8" stroke="#000" stroke-width="2.2"/>
<line x1="512.5" y1="1250.6" x2="512.5" y2="1238.8" stroke="#000" stroke-width="2.2"/>
<line x1="565.5" y1="1250.6" x2="565.5" y2="1238.8" stroke="#000" stroke-width="2.2"/>
<line x1="618.6" y1="1250.6" x2="618.6" y2="1238.8" stroke="#000" stroke-width="2.2"/>
<line x1="671.6" y1="1250.6" x2="671.6" y2="1238.8" stroke="#000" stroke-width="2.2"/>
<line x1="724.7" y1="1250.6" x2="724.7" y2="1238.8" stroke="#000" stroke-width="2.2"/>
<line x1="777.8" y1="1250.6" x2="777.8" y2="1238.8" stroke="#000" stroke-width="2.2"/>
<line x1="830.8" y1="1250.6" x2="830.8" y2="1238.8" stroke="#000" stroke-width="2.2"/>
<line x1="883.9" y1="1250.6" x2="883.9" y2="1238.8" stroke="#000" stroke-width="2.2"/>
<line x1="936.9" y1="1250.6" x2="936.9" y2="1238.8" stroke="#000" stroke-width="2.2"/>
<line x1="990.0" y1="1250.6" x2="990.0" y2="1238.8" stroke="#000" stroke-width="2.2"/>
<line x1="140.8" y1="1236.6" x2="152.6" y2="1236.6" stroke="#000" stroke-width="2.2"/>
<line x1="140.8" y1="1200.1" x2="152.6" y2="1200.1" stroke="#000" stroke-width="2.2"/>
<line x1="140.8" y1="1163.6" x2="152.6" y2="1163.6" stroke="#000" stroke-width="2.2"/>
<line x1="140.8" y1="1127.2" x2="152.6" y2="1127.2" stroke="#000" stroke-width="2.2"/>
<line x1="140.8" y1="1090.7" x2="152.6" y2="1090.7" stroke="#000" stroke-width="2.2"/>
<text x="127.4" y="1246.8" font-size="35.5" fill="#000" text-anchor="end">8</text>
<text x="127.4" y="1210.3" font-size="35.5" fill="#000" text-anchor="end">16</text>
<text x="127.4" y="1173.8" font-size="35.5" fill="#000" text-anchor="end">24</text>
<text x="127.4" y="1137.4" font-size="35.5" fill="#000" text-anchor="end">32</text>
<text x="127.4" y="1100.9" font-size="35.5" fill="#000" text-anchor="end">40</text>
<text transform="translate(47.5,1159.5) rotate(-90)" x="0" y="0" font-size="32.2" text-anchor="middle">Peak stress(Mpa)</text>
<rect x="187.6" y="1084.2" width="13.0" height="13.0" fill="#f00"/>
<rect x="240.7" y="1116.1" width="13.0" height="13.0" fill="#f00"/>
<rect x="293.7" y="1132.5" width="13.0" height="13.0" fill="#f00"/>
<rect x="346.8" y="1136.2" width="13.0" height="13.0" fill="#f00"/>
<rect x="399.8" y="1139.4" width="13.0" height="13.0" fill="#f00"/>
<rect x="452.9" y="1149.4" width="13.0" height="13.0" fill="#f00"/>
<rect x="506.0" y="1167.2" width="13.0" height="13.0" fill="#f00"/>
<rect x="559.0" y="1171.7" width="13.0" height="13.0" fill="#f00"/>
<rect x="612.1" y="1172.6" width="13.0" height="13.0" fill="#f00"/>
<rect x="665.1" y="1183.1" width="13.0" height="13.0" fill="#f00"/>
<rect x="718.2" y="1185.9" width="13.0" height="13.0" fill="#f00"/>
<rect x="771.3" y="1188.6" width="13.0" height="13.0" fill="#f00"/>
<rect x="824.3" y="1213.7" width="13.0" height="13.0" fill="#f00"/>
<rect x="877.4" y="1222.4" width="13.0" height="13.0" fill="#f00"/>
<rect x="930.4" y="1224.8" width="13.0" height="13.0" fill="#f00"/>
<rect x="983.5" y="1226.3" width="13.0" height="13.0" fill="#f00"/>
<text transform="translate(192.6,1090.7) scale(1,1.065)" font-size="23.0" fill="#580a82" text-anchor="start">40</text>
<text transform="translate(245.1,1122.6) scale(1,1.065)" font-size="23.0" fill="#580a82" text-anchor="start">33</text>
<text transform="translate(298.2,1139.0) scale(1,1.065)" font-size="23.0" fill="#580a82" text-anchor="start">29.4</text>
<text transform="translate(351.2,1142.7) scale(1,1.065)" font-size="23.0" fill="#580a82" text-anchor="start">28.6</text>
<text transform="translate(404.3,1145.9) scale(1,1.065)" font-size="23.0" fill="#580a82" text-anchor="start">27.9</text>
<text transform="translate(457.4,1155.9) scale(1,1.065)" font-size="23.0" fill="#580a82" text-anchor="start">25.7</text>
<text transform="translate(510.4,1173.7) scale(1,1.065)" font-size="23.0" fill="#580a82" text-anchor="start">21.8</text>
<text transform="translate(563.5,1178.2) scale(1,1.065)" font-size="23.0" fill="#580a82" text-anchor="start">20.8</text>
<text transform="translate(616.5,1179.1) scale(1,1.065)" font-size="23.0" fill="#580a82" text-anchor="start">20.6</text>
<text transform="translate(668.6,1189.6) scale(1,1.065)" font-size="23.0" fill="#580a82" text-anchor="start">18.3</text>
<text transform="translate(721.7,1192.4) scale(1,1.065)" font-size="23.0" fill="#580a82" text-anchor="start">17.7</text>
<text transform="translate(774.7,1195.1) scale(1,1.065)" font-size="23.0" fill="#580a82" text-anchor="start">17.1</text>
<text transform="translate(827.8,1220.2) scale(1,1.065)" font-size="23.0" fill="#580a82" text-anchor="start">11.6</text>
<text transform="translate(882.1,1228.9) scale(1,1.065)" font-size="23.0" fill="#580a82" text-anchor="start">9.68</text>
<text transform="translate(935.2,1231.3) scale(1,1.065)" font-size="23.0" fill="#580a82" text-anchor="start">9.17</text>
<text transform="translate(988.1,1232.8) scale(1,1.065)" font-size="23.0" fill="#580a82" text-anchor="start">8.83</text>
<path d="M203.4,1096.2L237.9,1117.0M257.5,1125.8L289.9,1135.8M311.0,1139.8L342.5,1141.9M364.1,1143.3L395.6,1145.2M417.0,1147.9L448.8,1153.9M469.6,1159.3L502.2,1170.2M523.2,1174.6L554.8,1177.3M576.3,1178.4L607.8,1179.0M629.2,1181.2L661.0,1187.5M682.4,1190.2L713.9,1191.8M735.5,1192.9L767.0,1194.5M787.5,1199.7L821.1,1215.6M841.5,1221.9L873.2,1227.2M894.7,1229.4L926.2,1230.8M947.7,1231.6L979.2,1232.5" stroke="#f00" stroke-width="3.0" fill="none" stroke-linecap="round"/>
<rect x="169.4" y="1073.0" width="225.3" height="78.0" fill="none" stroke="#c4c4c4" stroke-width="3.5"/>
<rect x="607.7" y="1137.3" width="223.4" height="71.4" fill="none" stroke="#c4c4c4" stroke-width="3.5"/>
<path d="M248.4,1090.1 C256.3,1092.4 282.5,1099.9 296.0,1103.8 C309.5,1107.7 323.7,1111.8 329.2,1113.4" fill="none" stroke="#f00" stroke-width="3.0" stroke-linecap="butt"/>
<polygon points="343.6,1117.5 324.7,1118.1 327.9,1106.9" fill="#f00"/>
<path d="M435.6,1123.3 C443.9,1123.7 469.6,1123.9 485.2,1125.5 C500.8,1127.1 516.9,1130.1 529.4,1133.0 C541.9,1135.9 555.1,1141.1 560.3,1142.7" fill="none" stroke="#f00" stroke-width="3.0" stroke-linecap="butt"/>
<polygon points="574.6,1147.2 555.7,1147.3 559.2,1136.3" fill="#f00"/>
<path d="M676.8,1155.6 C685.2,1156.6 712.7,1159.7 727.0,1161.4 C741.3,1163.1 756.7,1164.9 762.6,1165.6" fill="none" stroke="#f00" stroke-width="3.0" stroke-linecap="butt"/>
<polygon points="777.5,1167.3 758.9,1171.0 760.3,1159.5" fill="#f00"/>
<path d="M834.0,1200.3 C846.5,1201.7 886.4,1206.0 909.0,1208.5 C931.6,1211.0 959.7,1214.1 969.8,1215.2" fill="none" stroke="#f00" stroke-width="3.0" stroke-linecap="butt"/>
<polygon points="984.7,1216.8 966.2,1220.6 967.4,1209.1" fill="#f00"/>
<path d="M622.6,1092.0H648.8M668.0,1092.0H697.1" stroke="#f00" stroke-width="2.9" stroke-linecap="round" fill="none"/>
<rect x="651.5" y="1085.5" width="13.0" height="13.0" fill="#f00"/>
<text x="701.9" y="1102.4" font-size="32.1" fill="#000" text-anchor="start">heating time 1.5h(stress)</text>
<rect x="140.8" y="1292.4" width="902.1" height="182.1" fill="none" stroke="#000" stroke-width="2.6"/>
<line x1="194.1" y1="1474.5" x2="194.1" y2="1462.7" stroke="#000" stroke-width="2.2"/>
<line x1="247.2" y1="1474.5" x2="247.2" y2="1462.7" stroke="#000" stroke-width="2.2"/>
<line x1="300.2" y1="1474.5" x2="300.2" y2="1462.7" stroke="#000" stroke-width="2.2"/>
<line x1="353.3" y1="1474.5" x2="353.3" y2="1462.7" stroke="#000" stroke-width="2.2"/>
<line x1="406.3" y1="1474.5" x2="406.3" y2="1462.7" stroke="#000" stroke-width="2.2"/>
<line x1="459.4" y1="1474.5" x2="459.4" y2="1462.7" stroke="#000" stroke-width="2.2"/>
<line x1="512.5" y1="1474.5" x2="512.5" y2="1462.7" stroke="#000" stroke-width="2.2"/>
<line x1="565.5" y1="1474.5" x2="565.5" y2="1462.7" stroke="#000" stroke-width="2.2"/>
<line x1="618.6" y1="1474.5" x2="618.6" y2="1462.7" stroke="#000" stroke-width="2.2"/>
<line x1="671.6" y1="1474.5" x2="671.6" y2="1462.7" stroke="#000" stroke-width="2.2"/>
<line x1="724.7" y1="1474.5" x2="724.7" y2="1462.7" stroke="#000" stroke-width="2.2"/>
<line x1="777.8" y1="1474.5" x2="777.8" y2="1462.7" stroke="#000" stroke-width="2.2"/>
<line x1="830.8" y1="1474.5" x2="830.8" y2="1462.7" stroke="#000" stroke-width="2.2"/>
<line x1="883.9" y1="1474.5" x2="883.9" y2="1462.7" stroke="#000" stroke-width="2.2"/>
<line x1="936.9" y1="1474.5" x2="936.9" y2="1462.7" stroke="#000" stroke-width="2.2"/>
<line x1="990.0" y1="1474.5" x2="990.0" y2="1462.7" stroke="#000" stroke-width="2.2"/>
<line x1="140.8" y1="1444.2" x2="152.6" y2="1444.2" stroke="#000" stroke-width="2.2"/>
<line x1="140.8" y1="1413.8" x2="152.6" y2="1413.8" stroke="#000" stroke-width="2.2"/>
<line x1="140.8" y1="1383.5" x2="152.6" y2="1383.5" stroke="#000" stroke-width="2.2"/>
<line x1="140.8" y1="1353.1" x2="152.6" y2="1353.1" stroke="#000" stroke-width="2.2"/>
<line x1="140.8" y1="1322.8" x2="152.6" y2="1322.8" stroke="#000" stroke-width="2.2"/>
<text x="127.4" y="1484.7" font-size="35.5" fill="#000" text-anchor="end">0</text>
<text x="127.4" y="1454.4" font-size="35.5" fill="#000" text-anchor="end">5</text>
<text x="127.4" y="1424.0" font-size="35.5" fill="#000" text-anchor="end">10</text>
<text x="127.4" y="1393.7" font-size="35.5" fill="#000" text-anchor="end">15</text>
<text x="127.4" y="1363.3" font-size="35.5" fill="#000" text-anchor="end">20</text>
<text x="127.4" y="1333.0" font-size="35.5" fill="#000" text-anchor="end">25</text>
<text x="127.4" y="1302.6" font-size="35.5" fill="#000" text-anchor="end">30</text>
<text transform="translate(90.5,1383.5) rotate(-90)" x="0" y="0" font-size="32.2" text-anchor="middle">Elastic modulus(Mpa)</text>
<rect x="187.6" y="1310.8" width="13.0" height="13.0" fill="#00f"/>
<rect x="240.7" y="1310.8" width="13.0" height="13.0" fill="#00f"/>
<rect x="293.7" y="1329.0" width="13.0" height="13.0" fill="#00f"/>
<rect x="346.8" y="1307.8" width="13.0" height="13.0" fill="#00f"/>
<rect x="399.8" y="1385.4" width="13.0" height="13.0" fill="#00f"/>
<rect x="452.9" y="1390.3" width="13.0" height="13.0" fill="#00f"/>
<rect x="506.0" y="1409.7" width="13.0" height="13.0" fill="#00f"/>
<rect x="559.0" y="1408.7" width="13.0" height="13.0" fill="#00f"/>
<rect x="612.1" y="1425.2" width="13.0" height="13.0" fill="#00f"/>
<rect x="665.1" y="1443.7" width="13.0" height="13.0" fill="#00f"/>
<rect x="718.2" y="1431.8" width="13.0" height="13.0" fill="#00f"/>
<rect x="771.3" y="1435.0" width="13.0" height="13.0" fill="#00f"/>
<rect x="824.3" y="1439.0" width="13.0" height="13.0" fill="#00f"/>
<rect x="877.4" y="1444.3" width="13.0" height="13.0" fill="#00f"/>
<rect x="930.4" y="1444.6" width="13.0" height="13.0" fill="#00f"/>
<rect x="983.5" y="1454.9" width="13.0" height="13.0" fill="#00f"/>
<text transform="translate(199.1,1319.3) scale(1,1.065)" font-size="23.0" fill="#580a82" text-anchor="start">25.9</text>
<text transform="translate(252.1,1319.3) scale(1,1.065)" font-size="23.0" fill="#580a82" text-anchor="start">25.9</text>
<text transform="translate(305.2,1337.5) scale(1,1.065)" font-size="23.0" fill="#580a82" text-anchor="start">22.9</text>
<text transform="translate(358.2,1316.3) scale(1,1.065)" font-size="23.0" fill="#580a82" text-anchor="start">26.4</text>
<text transform="translate(410.3,1393.9) scale(1,1.065)" font-size="23.0" fill="#580a82" text-anchor="start">13.6</text>
<text transform="translate(463.4,1398.8) scale(1,1.065)" font-size="23.0" fill="#580a82" text-anchor="start">12.8</text>
<text transform="translate(517.7,1418.2) scale(1,1.065)" font-size="23.0" fill="#580a82" text-anchor="start">9.61</text>
<text transform="translate(570.8,1417.2) scale(1,1.065)" font-size="23.0" fill="#580a82" text-anchor="start">9.77</text>
<text transform="translate(623.1,1433.7) scale(1,1.065)" font-size="23.0" fill="#580a82" text-anchor="start">7.05</text>
<text transform="translate(677.2,1452.2) scale(1,1.065)" font-size="23.0" fill="#580a82" text-anchor="start">4</text>
<text transform="translate(729.4,1440.3) scale(1,1.065)" font-size="23.0" fill="#580a82" text-anchor="start">5.96</text>
<text transform="translate(782.4,1443.5) scale(1,1.065)" font-size="23.0" fill="#580a82" text-anchor="start">5.44</text>
<text transform="translate(836.4,1447.5) scale(1,1.065)" font-size="23.0" fill="#580a82" text-anchor="start">4.78</text>
<text transform="translate(888.8,1452.8) scale(1,1.065)" font-size="23.0" fill="#580a82" text-anchor="start">3.9</text>
<text transform="translate(941.8,1453.1) scale(1,1.065)" font-size="23.0" fill="#580a82" text-anchor="start">3.85</text>
<text transform="translate(995.0,1463.4) scale(1,1.065)" font-size="23.0" fill="#580a82" text-anchor="start">2.16</text>
<path d="M204.9,1317.3L236.4,1317.3M257.4,1320.8L290.0,1332.0M310.2,1331.5L343.3,1318.3M359.4,1323.2L400.2,1383.0M417.1,1392.9L448.6,1395.8M469.5,1400.5L502.3,1412.5M523.3,1416.0L554.7,1415.4M575.8,1418.4L608.3,1428.5M628.8,1435.3L661.4,1446.7M682.2,1447.9L714.2,1440.7M735.5,1439.0L767.0,1440.8M788.5,1442.3L820.1,1444.7M841.6,1446.6L873.1,1449.7M894.7,1450.9L926.1,1451.1M947.5,1453.2L979.4,1459.3" stroke="#00f" stroke-width="3.0" fill="none" stroke-linecap="round"/>
<rect x="174.3" y="1298.0" width="235.9" height="66.0" fill="none" stroke="#c4c4c4" stroke-width="3.5"/>
<rect x="610.0" y="1395.3" width="214.0" height="65.2" fill="none" stroke="#c4c4c4" stroke-width="3.5"/>
<path d="M198.9,1346.1 C203.8,1346.6 216.2,1348.2 228.5,1349.2 C240.8,1350.2 258.1,1351.9 272.8,1352.3 C287.6,1352.7 305.6,1352.0 317.0,1351.4 C328.4,1350.8 337.1,1349.1 341.1,1348.7" fill="none" stroke="#00f" stroke-width="3.0" stroke-linecap="butt"/>
<polygon points="356.0,1347.0 338.8,1354.8 337.5,1343.3" fill="#00f"/>
<path d="M423.2,1359.3 C431.3,1361.3 456.4,1367.4 471.9,1371.3 C487.4,1375.2 503.6,1379.8 516.2,1382.4 C528.8,1385.0 542.5,1386.1 547.7,1386.9" fill="none" stroke="#00f" stroke-width="3.0" stroke-linecap="butt"/>
<polygon points="562.6,1389.0 544.0,1392.2 545.6,1380.7" fill="#00f"/>
<path d="M633.0,1405.0 C638.1,1406.6 652.2,1412.1 663.6,1414.5 C675.0,1416.9 687.1,1418.6 701.2,1419.2 C715.3,1419.8 736.0,1418.7 748.3,1418.2 C760.6,1417.7 770.4,1416.7 774.8,1416.4" fill="none" stroke="#00f" stroke-width="3.0" stroke-linecap="butt"/>
<polygon points="789.8,1415.4 772.2,1422.4 771.5,1410.8" fill="#00f"/>
<path d="M836.8,1422.5 C848.0,1423.3 884.0,1425.9 904.0,1427.4 C924.0,1428.9 948.2,1430.7 957.0,1431.3" fill="none" stroke="#00f" stroke-width="3.0" stroke-linecap="butt"/>
<polygon points="972.0,1432.4 953.6,1436.9 954.5,1425.3" fill="#00f"/>
<path d="M600.0,1322.7H625.2M644.4,1322.7H672.6" stroke="#00f" stroke-width="2.9" stroke-linecap="round" fill="none"/>
<rect x="627.9" y="1316.2" width="13.0" height="13.0" fill="#00f"/>
<text x="678.3" y="1333.1" font-size="32.1" fill="#000" text-anchor="start">heating time 1.5h(modulus)</text>
<text x="194.1" y="1512.4" font-size="32.4" fill="#000" text-anchor="middle">B5</text>
<text x="247.2" y="1512.4" font-size="32.4" fill="#000" text-anchor="middle">B6</text>
<text x="300.2" y="1512.4" font-size="32.4" fill="#000" text-anchor="middle">B7</text>
<text x="353.3" y="1512.4" font-size="32.4" fill="#000" text-anchor="middle">B8</text>
<text x="406.3" y="1512.4" font-size="32.4" fill="#000" text-anchor="middle">A5</text>
<text x="459.4" y="1512.4" font-size="32.4" fill="#000" text-anchor="middle">A6</text>
<text x="512.5" y="1512.4" font-size="32.4" fill="#000" text-anchor="middle">A7</text>
<text x="565.5" y="1512.4" font-size="32.4" fill="#000" text-anchor="middle">A8</text>
<text x="618.6" y="1512.4" font-size="32.4" fill="#000" text-anchor="middle">S5</text>
<text x="671.6" y="1512.4" font-size="32.4" fill="#000" text-anchor="middle">S6</text>
<text x="724.7" y="1512.4" font-size="32.4" fill="#000" text-anchor="middle">S7</text>
<text x="777.8" y="1512.4" font-size="32.4" fill="#000" text-anchor="middle">S8</text>
<text x="830.8" y="1512.4" font-size="32.4" fill="#000" text-anchor="middle">Q5</text>
<text x="883.9" y="1512.4" font-size="32.4" fill="#000" text-anchor="middle">Q6</text>
<text x="936.9" y="1512.4" font-size="32.4" fill="#000" text-anchor="middle">Q7</text>
<text x="990.0" y="1512.4" font-size="32.4" fill="#000" text-anchor="middle">Q8</text>
<text x="462.1" y="1545.9" font-size="32.35" fill="#000" text-anchor="start">Specimen number</text>
<text x="0.6" y="1629.5" font-size="42.5" fill="#000" text-anchor="start">(c)</text>
<rect x="125.6" y="1629.8" width="933.8" height="188.5" fill="none" stroke="#000" stroke-width="2.6"/>
<line x1="180.3" y1="1818.3" x2="180.3" y2="1806.5" stroke="#000" stroke-width="2.2"/>
<line x1="235.2" y1="1818.3" x2="235.2" y2="1806.5" stroke="#000" stroke-width="2.2"/>
<line x1="290.1" y1="1818.3" x2="290.1" y2="1806.5" stroke="#000" stroke-width="2.2"/>
<line x1="345.1" y1="1818.3" x2="345.1" y2="1806.5" stroke="#000" stroke-width="2.2"/>
<line x1="400.0" y1="1818.3" x2="400.0" y2="1806.5" stroke="#000" stroke-width="2.2"/>
<line x1="454.9" y1="1818.3" x2="454.9" y2="1806.5" stroke="#000" stroke-width="2.2"/>
<line x1="509.8" y1="1818.3" x2="509.8" y2="1806.5" stroke="#000" stroke-width="2.2"/>
<line x1="564.7" y1="1818.3" x2="564.7" y2="1806.5" stroke="#000" stroke-width="2.2"/>
<line x1="619.7" y1="1818.3" x2="619.7" y2="1806.5" stroke="#000" stroke-width="2.2"/>
<line x1="674.6" y1="1818.3" x2="674.6" y2="1806.5" stroke="#000" stroke-width="2.2"/>
<line x1="729.5" y1="1818.3" x2="729.5" y2="1806.5" stroke="#000" stroke-width="2.2"/>
<line x1="784.4" y1="1818.3" x2="784.4" y2="1806.5" stroke="#000" stroke-width="2.2"/>
<line x1="839.3" y1="1818.3" x2="839.3" y2="1806.5" stroke="#000" stroke-width="2.2"/>
<line x1="894.3" y1="1818.3" x2="894.3" y2="1806.5" stroke="#000" stroke-width="2.2"/>
<line x1="949.2" y1="1818.3" x2="949.2" y2="1806.5" stroke="#000" stroke-width="2.2"/>
<line x1="1004.1" y1="1818.3" x2="1004.1" y2="1806.5" stroke="#000" stroke-width="2.2"/>
<line x1="125.6" y1="1805.4" x2="137.4" y2="1805.4" stroke="#000" stroke-width="2.2"/>
<line x1="125.6" y1="1767.9" x2="137.4" y2="1767.9" stroke="#000" stroke-width="2.2"/>
<line x1="125.6" y1="1730.5" x2="137.4" y2="1730.5" stroke="#000" stroke-width="2.2"/>
<line x1="125.6" y1="1693.0" x2="137.4" y2="1693.0" stroke="#000" stroke-width="2.2"/>
<line x1="125.6" y1="1655.6" x2="137.4" y2="1655.6" stroke="#000" stroke-width="2.2"/>
<text x="111.2" y="1816.2" font-size="33.5" fill="#000" text-anchor="end">0.9</text>
<text x="111.2" y="1778.7" font-size="33.5" fill="#000" text-anchor="end">1.2</text>
<text x="111.2" y="1741.3" font-size="33.5" fill="#000" text-anchor="end">1.5</text>
<text x="111.2" y="1703.8" font-size="33.5" fill="#000" text-anchor="end">1.8</text>
<text x="111.2" y="1666.4" font-size="33.5" fill="#000" text-anchor="end">2.1</text>
<text transform="translate(67.7,1722.5) rotate(-90)" x="0" y="0" font-size="32.7" text-anchor="middle">Peak strain(%)</text>
<polygon points="180.3,1733.4 189.9,1749.8 170.7,1749.8" fill="#000"/>
<polygon points="235.2,1763.4 244.8,1779.8 225.6,1779.8" fill="#000"/>
<polygon points="290.1,1774.6 299.7,1791.0 280.5,1791.0" fill="#000"/>
<polygon points="345.1,1779.6 354.7,1796.0 335.5,1796.0" fill="#000"/>
<polygon points="400.0,1694.7 409.6,1711.1 390.4,1711.1" fill="#000"/>
<polygon points="454.9,1682.2 464.5,1698.6 445.3,1698.6" fill="#000"/>
<polygon points="509.8,1679.7 519.4,1696.1 500.2,1696.1" fill="#000"/>
<polygon points="564.7,1683.5 574.3,1699.9 555.1,1699.9" fill="#000"/>
<polygon points="619.7,1656.0 629.3,1672.4 610.1,1672.4" fill="#000"/>
<polygon points="674.6,1647.3 684.2,1663.7 665.0,1663.7" fill="#000"/>
<polygon points="729.5,1641.1 739.1,1657.5 719.9,1657.5" fill="#000"/>
<polygon points="784.4,1648.5 794.0,1664.9 774.8,1664.9" fill="#000"/>
<polygon points="839.3,1693.5 848.9,1709.9 829.7,1709.9" fill="#000"/>
<polygon points="894.3,1667.3 903.9,1683.7 884.7,1683.7" fill="#000"/>
<polygon points="949.2,1694.7 958.8,1711.1 939.6,1711.1" fill="#000"/>
<polygon points="1004.1,1673.5 1013.7,1689.9 994.5,1689.9" fill="#000"/>
<text transform="translate(188.1,1763.0) scale(1,1.065)" font-size="24.4" fill="#580a82" text-anchor="start">1.39</text>
<text transform="translate(243.4,1793.2) scale(1,1.065)" font-size="24.4" fill="#580a82" text-anchor="start">1.15</text>
<text transform="translate(298.8,1803.7) scale(1,1.065)" font-size="24.4" fill="#580a82" text-anchor="start">1.06</text>
<text transform="translate(353.0,1809.0) scale(1,1.065)" font-size="24.4" fill="#580a82" text-anchor="start">1.02</text>
<text transform="translate(408.2,1723.0) scale(1,1.065)" font-size="24.4" fill="#580a82" text-anchor="start">1.7</text>
<text transform="translate(463.5,1711.7) scale(1,1.065)" font-size="24.4" fill="#580a82" text-anchor="start">1.8</text>
<text transform="translate(518.3,1708.2) scale(1,1.065)" font-size="24.4" fill="#580a82" text-anchor="start">1.82</text>
<text transform="translate(572.6,1712.5) scale(1,1.065)" font-size="24.4" fill="#580a82" text-anchor="start">1.79</text>
<text transform="translate(627.5,1685.0) scale(1,1.065)" font-size="24.4" fill="#580a82" text-anchor="start">2.01</text>
<text transform="translate(681.7,1676.0) scale(1,1.065)" font-size="24.4" fill="#580a82" text-anchor="start">2.08</text>
<text transform="translate(738.2,1668.2) scale(1,1.065)" font-size="24.4" fill="#580a82" text-anchor="start">2.13</text>
<text transform="translate(792.4,1676.5) scale(1,1.065)" font-size="24.4" fill="#580a82" text-anchor="start">2.07</text>
<text transform="translate(847.8,1722.2) scale(1,1.065)" font-size="24.4" fill="#580a82" text-anchor="start">1.71</text>
<text transform="translate(902.6,1696.2) scale(1,1.065)" font-size="24.4" fill="#580a82" text-anchor="start">1.92</text>
<text transform="translate(957.9,1722.7) scale(1,1.065)" font-size="24.4" fill="#580a82" text-anchor="start">1.7</text>
<text transform="translate(1013.1,1701.2) scale(1,1.065)" font-size="24.4" fill="#580a82" text-anchor="start">1.87</text>
<path d="M189.8,1749.4L225.7,1769.0M245.8,1776.3L279.6,1783.2M300.9,1786.4L334.3,1789.4M350.9,1781.3L394.1,1714.6M410.5,1703.1L444.4,1695.4M465.7,1692.5L499.0,1691.0M520.6,1691.3L554.0,1693.6M574.4,1689.5L610.0,1671.7M630.3,1665.1L663.9,1659.8M685.3,1656.9L718.8,1653.1M740.2,1653.3L773.7,1657.9M792.8,1666.2L831.0,1697.4M849.1,1699.6L884.5,1682.7M903.9,1682.9L939.5,1700.7M959.3,1701.6L994.0,1688.2" stroke="#000" stroke-width="3.0" fill="none" stroke-linecap="round"/>
<rect x="163.3" y="1731.9" width="248.2" height="68.1" fill="none" stroke="#c4c4c4" stroke-width="4.2"/>
<rect x="607.7" y="1635.5" width="231.8" height="55.8" fill="none" stroke="#c4c4c4" stroke-width="4.2"/>
<path d="M227.5,1742.9 C236.4,1745.3 265.5,1753.1 281.0,1757.2 C296.5,1761.3 313.8,1766.0 320.3,1767.7" fill="none" stroke="#000" stroke-width="3.0" stroke-linecap="butt"/>
<polygon points="334.8,1771.6 315.9,1772.5 318.9,1761.3" fill="#000"/>
<path d="M419.3,1740.0 C425.6,1738.5 443.4,1734.5 457.0,1731.2 C470.6,1727.9 486.5,1723.4 501.2,1720.1 C515.9,1716.8 535.4,1713.0 545.4,1711.3 C555.4,1709.6 558.8,1710.0 561.5,1709.7" fill="none" stroke="#000" stroke-width="3.0" stroke-linecap="butt"/>
<polygon points="576.4,1708.2 559.1,1715.8 557.9,1704.2" fill="#000"/>
<path d="M628.3,1685.3 C636.5,1683.7 661.6,1678.2 677.7,1675.8 C693.8,1673.4 711.5,1671.7 724.8,1670.7 C738.1,1669.7 748.4,1670.0 757.7,1669.7 C767.0,1669.4 776.6,1669.0 780.4,1668.9" fill="none" stroke="#000" stroke-width="3.0" stroke-linecap="butt"/>
<polygon points="795.4,1668.3 777.6,1674.8 777.2,1663.2" fill="#000"/>
<path d="M856.6,1751.2 C860.5,1748.6 870.7,1739.4 880.1,1735.6 C889.5,1731.8 899.8,1730.5 913.1,1728.6 C926.5,1726.6 946.9,1726.2 960.2,1723.9 C973.5,1721.6 985.8,1716.8 993.1,1714.5 C1000.4,1712.2 1002.0,1710.7 1003.8,1710.0" fill="none" stroke="#000" stroke-width="3.0" stroke-linecap="butt"/>
<polygon points="1017.6,1704.1 1003.3,1716.5 998.8,1705.8" fill="#000"/>
<path d="M177.3,1658.2H204.3M223.5,1658.2H251.7" stroke="#000" stroke-width="2.9" stroke-linecap="round" fill="none"/>
<polygon points="213.5,1647.4 223.1,1663.8 203.9,1663.8" fill="#000"/>
<text x="259.7" y="1670.3" font-size="33.3" fill="#000" text-anchor="start">heating time 3h(strain)</text>
<rect x="125.6" y="1861.9" width="933.8" height="188.2" fill="none" stroke="#000" stroke-width="2.6"/>
<line x1="180.3" y1="2050.1" x2="180.3" y2="2038.3" stroke="#000" stroke-width="2.2"/>
<line x1="235.2" y1="2050.1" x2="235.2" y2="2038.3" stroke="#000" stroke-width="2.2"/>
<line x1="290.1" y1="2050.1" x2="290.1" y2="2038.3" stroke="#000" stroke-width="2.2"/>
<line x1="345.1" y1="2050.1" x2="345.1" y2="2038.3" stroke="#000" stroke-width="2.2"/>
<line x1="400.0" y1="2050.1" x2="400.0" y2="2038.3" stroke="#000" stroke-width="2.2"/>
<line x1="454.9" y1="2050.1" x2="454.9" y2="2038.3" stroke="#000" stroke-width="2.2"/>
<line x1="509.8" y1="2050.1" x2="509.8" y2="2038.3" stroke="#000" stroke-width="2.2"/>
<line x1="564.7" y1="2050.1" x2="564.7" y2="2038.3" stroke="#000" stroke-width="2.2"/>
<line x1="619.7" y1="2050.1" x2="619.7" y2="2038.3" stroke="#000" stroke-width="2.2"/>
<line x1="674.6" y1="2050.1" x2="674.6" y2="2038.3" stroke="#000" stroke-width="2.2"/>
<line x1="729.5" y1="2050.1" x2="729.5" y2="2038.3" stroke="#000" stroke-width="2.2"/>
<line x1="784.4" y1="2050.1" x2="784.4" y2="2038.3" stroke="#000" stroke-width="2.2"/>
<line x1="839.3" y1="2050.1" x2="839.3" y2="2038.3" stroke="#000" stroke-width="2.2"/>
<line x1="894.3" y1="2050.1" x2="894.3" y2="2038.3" stroke="#000" stroke-width="2.2"/>
<line x1="949.2" y1="2050.1" x2="949.2" y2="2038.3" stroke="#000" stroke-width="2.2"/>
<line x1="1004.1" y1="2050.1" x2="1004.1" y2="2038.3" stroke="#000" stroke-width="2.2"/>
<line x1="125.6" y1="2045.8" x2="137.4" y2="2045.8" stroke="#000" stroke-width="2.2"/>
<line x1="125.6" y1="2017.5" x2="137.4" y2="2017.5" stroke="#000" stroke-width="2.2"/>
<line x1="125.6" y1="1989.2" x2="137.4" y2="1989.2" stroke="#000" stroke-width="2.2"/>
<line x1="125.6" y1="1961.0" x2="137.4" y2="1961.0" stroke="#000" stroke-width="2.2"/>
<line x1="125.6" y1="1932.7" x2="137.4" y2="1932.7" stroke="#000" stroke-width="2.2"/>
<line x1="125.6" y1="1904.4" x2="137.4" y2="1904.4" stroke="#000" stroke-width="2.2"/>
<line x1="125.6" y1="1876.1" x2="137.4" y2="1876.1" stroke="#000" stroke-width="2.2"/>
<text x="111.2" y="2056.6" font-size="33.5" fill="#000" text-anchor="end">6</text>
<text x="111.2" y="2028.3" font-size="33.5" fill="#000" text-anchor="end">12</text>
<text x="111.2" y="2000.0" font-size="33.5" fill="#000" text-anchor="end">18</text>
<text x="111.2" y="1971.8" font-size="33.5" fill="#000" text-anchor="end">24</text>
<text x="111.2" y="1943.5" font-size="33.5" fill="#000" text-anchor="end">30</text>
<text x="111.2" y="1915.2" font-size="33.5" fill="#000" text-anchor="end">36</text>
<text x="111.2" y="1886.9" font-size="33.5" fill="#000" text-anchor="end">42</text>
<text transform="translate(39.1,1955.5) rotate(-90)" x="0" y="0" font-size="33.3" text-anchor="middle">Peak stress(Mpa)</text>
<polygon points="180.3,1884.2 189.9,1900.6 170.7,1900.6" fill="#f00"/>
<polygon points="235.2,1914.8 244.8,1931.2 225.6,1931.2" fill="#f00"/>
<polygon points="290.1,1927.1 299.7,1943.5 280.5,1943.5" fill="#f00"/>
<polygon points="345.1,1932.7 354.7,1949.1 335.5,1949.1" fill="#f00"/>
<polygon points="400.0,1943.6 409.6,1960.0 390.4,1960.0" fill="#f00"/>
<polygon points="454.9,1960.1 464.5,1976.5 445.3,1976.5" fill="#f00"/>
<polygon points="509.8,1962.4 519.4,1978.8 500.2,1978.8" fill="#f00"/>
<polygon points="564.7,1974.2 574.3,1990.6 555.1,1990.6" fill="#f00"/>
<polygon points="619.7,1967.6 629.3,1984.0 610.1,1984.0" fill="#f00"/>
<polygon points="674.6,1973.3 684.2,1989.7 665.0,1989.7" fill="#f00"/>
<polygon points="729.5,1976.6 739.1,1993.0 719.9,1993.0" fill="#f00"/>
<polygon points="784.4,1981.3 794.0,1997.7 774.8,1997.7" fill="#f00"/>
<polygon points="839.3,2019.6 848.9,2036.0 829.7,2036.0" fill="#f00"/>
<polygon points="894.3,2020.4 903.9,2036.8 884.7,2036.8" fill="#f00"/>
<polygon points="949.2,2022.4 958.8,2038.8 939.6,2038.8" fill="#f00"/>
<polygon points="1004.1,2030.6 1013.7,2047.0 994.5,2047.0" fill="#f00"/>
<text transform="translate(179.1,1891.5) scale(1,1.065)" font-size="24.4" fill="#580a82" text-anchor="start">38</text>
<text transform="translate(234.1,1922.1) scale(1,1.065)" font-size="24.4" fill="#580a82" text-anchor="start">31.5</text>
<text transform="translate(289.0,1934.4) scale(1,1.065)" font-size="24.4" fill="#580a82" text-anchor="start">28.9</text>
<text transform="translate(344.0,1940.0) scale(1,1.065)" font-size="24.4" fill="#580a82" text-anchor="start">27.7</text>
<text transform="translate(398.9,1950.9) scale(1,1.065)" font-size="24.4" fill="#580a82" text-anchor="start">25.4</text>
<text transform="translate(453.8,1967.4) scale(1,1.065)" font-size="24.4" fill="#580a82" text-anchor="start">21.9</text>
<text transform="translate(508.7,1969.7) scale(1,1.065)" font-size="24.4" fill="#580a82" text-anchor="start">21.4</text>
<text transform="translate(562.6,1981.5) scale(1,1.065)" font-size="24.4" fill="#580a82" text-anchor="start">18.9</text>
<text transform="translate(618.6,1974.9) scale(1,1.065)" font-size="24.4" fill="#580a82" text-anchor="start">20.3</text>
<text transform="translate(672.4,1980.6) scale(1,1.065)" font-size="24.4" fill="#580a82" text-anchor="start">19.1</text>
<text transform="translate(727.4,1983.9) scale(1,1.065)" font-size="24.4" fill="#580a82" text-anchor="start">18.4</text>
<text transform="translate(782.3,1988.6) scale(1,1.065)" font-size="24.4" fill="#580a82" text-anchor="start">17.4</text>
<text transform="translate(838.5,2026.9) scale(1,1.065)" font-size="24.4" fill="#580a82" text-anchor="start">9.26</text>
<text transform="translate(893.5,2027.7) scale(1,1.065)" font-size="24.4" fill="#580a82" text-anchor="start">9.09</text>
<text transform="translate(948.3,2029.7) scale(1,1.065)" font-size="24.4" fill="#580a82" text-anchor="start">8.68</text>
<text transform="translate(1003.1,2037.9) scale(1,1.065)" font-size="24.4" fill="#580a82" text-anchor="start">6.94</text>
<path d="M189.7,1900.2L225.8,1920.3M245.8,1927.9L279.6,1935.5M300.9,1939.0L334.3,1942.4M355.7,1945.6L389.4,1952.3M410.3,1957.5L444.6,1967.7M465.7,1971.3L499.0,1972.7M520.4,1975.5L554.2,1982.7M575.5,1983.7L608.9,1979.7M630.4,1979.5L663.8,1982.9M685.4,1984.7L718.7,1986.7M740.3,1988.3L773.7,1991.1M793.3,1998.2L830.5,2024.3M850.1,2030.6L883.5,2031.1M905.1,2031.6L938.4,2032.8M959.9,2034.8L993.4,2039.8" stroke="#f00" stroke-width="3.0" fill="none" stroke-linecap="round"/>
<rect x="154.4" y="1870.3" width="234.1" height="77.8" fill="none" stroke="#c4c4c4" stroke-width="4.2"/>
<rect x="609.1" y="1933.7" width="231.2" height="73.3" fill="none" stroke="#c4c4c4" stroke-width="4.2"/>
<path d="M229.0,1884.7 C239.8,1887.3 274.7,1895.7 294.0,1900.4 C313.3,1905.1 336.5,1910.6 345.0,1912.6" fill="none" stroke="#f00" stroke-width="3.0" stroke-linecap="butt"/>
<polygon points="359.6,1916.1 340.7,1917.6 343.4,1906.3" fill="#f00"/>
<path d="M425.0,1924.9 C432.5,1925.1 455.3,1924.5 470.2,1925.8 C485.1,1927.0 501.9,1929.8 514.4,1932.4 C526.9,1935.0 538.8,1939.2 545.4,1941.3 C552.0,1943.4 552.5,1944.6 554.0,1945.2" fill="none" stroke="#f00" stroke-width="3.0" stroke-linecap="butt"/>
<polygon points="567.6,1951.5 548.8,1949.3 553.7,1938.7" fill="#f00"/>
<path d="M625.9,1943.5 C638.6,1944.5 679.0,1947.9 702.0,1949.8 C725.0,1951.7 753.6,1954.1 764.0,1955.0" fill="none" stroke="#f00" stroke-width="3.0" stroke-linecap="butt"/>
<polygon points="778.9,1956.2 760.5,1960.5 761.4,1948.9" fill="#f00"/>
<path d="M869.8,1989.2 C880.5,1990.6 915.1,1995.0 934.0,1997.4 C952.9,1999.8 974.9,2002.7 983.0,2003.8" fill="none" stroke="#f00" stroke-width="3.0" stroke-linecap="butt"/>
<polygon points="997.9,2005.7 979.3,2009.1 980.8,1997.6" fill="#f00"/>
<path d="M603.8,1884.2H630.8M650.0,1884.2H678.3" stroke="#f00" stroke-width="2.9" stroke-linecap="round" fill="none"/>
<polygon points="640.0,1873.4 649.6,1889.8 630.4,1889.8" fill="#f00"/>
<text x="685.9" y="1896.0" font-size="33.3" fill="#000" text-anchor="start">heating time 3h(stress)</text>
<rect x="125.6" y="2093.9" width="933.8" height="187.8" fill="none" stroke="#000" stroke-width="2.6"/>
<line x1="180.3" y1="2281.7" x2="180.3" y2="2269.9" stroke="#000" stroke-width="2.2"/>
<line x1="235.2" y1="2281.7" x2="235.2" y2="2269.9" stroke="#000" stroke-width="2.2"/>
<line x1="290.1" y1="2281.7" x2="290.1" y2="2269.9" stroke="#000" stroke-width="2.2"/>
<line x1="345.1" y1="2281.7" x2="345.1" y2="2269.9" stroke="#000" stroke-width="2.2"/>
<line x1="400.0" y1="2281.7" x2="400.0" y2="2269.9" stroke="#000" stroke-width="2.2"/>
<line x1="454.9" y1="2281.7" x2="454.9" y2="2269.9" stroke="#000" stroke-width="2.2"/>
<line x1="509.8" y1="2281.7" x2="509.8" y2="2269.9" stroke="#000" stroke-width="2.2"/>
<line x1="564.7" y1="2281.7" x2="564.7" y2="2269.9" stroke="#000" stroke-width="2.2"/>
<line x1="619.7" y1="2281.7" x2="619.7" y2="2269.9" stroke="#000" stroke-width="2.2"/>
<line x1="674.6" y1="2281.7" x2="674.6" y2="2269.9" stroke="#000" stroke-width="2.2"/>
<line x1="729.5" y1="2281.7" x2="729.5" y2="2269.9" stroke="#000" stroke-width="2.2"/>
<line x1="784.4" y1="2281.7" x2="784.4" y2="2269.9" stroke="#000" stroke-width="2.2"/>
<line x1="839.3" y1="2281.7" x2="839.3" y2="2269.9" stroke="#000" stroke-width="2.2"/>
<line x1="894.3" y1="2281.7" x2="894.3" y2="2269.9" stroke="#000" stroke-width="2.2"/>
<line x1="949.2" y1="2281.7" x2="949.2" y2="2269.9" stroke="#000" stroke-width="2.2"/>
<line x1="1004.1" y1="2281.7" x2="1004.1" y2="2269.9" stroke="#000" stroke-width="2.2"/>
<line x1="125.6" y1="2253.2" x2="137.4" y2="2253.2" stroke="#000" stroke-width="2.2"/>
<line x1="125.6" y1="2224.7" x2="137.4" y2="2224.7" stroke="#000" stroke-width="2.2"/>
<line x1="125.6" y1="2196.2" x2="137.4" y2="2196.2" stroke="#000" stroke-width="2.2"/>
<line x1="125.6" y1="2167.7" x2="137.4" y2="2167.7" stroke="#000" stroke-width="2.2"/>
<line x1="125.6" y1="2139.2" x2="137.4" y2="2139.2" stroke="#000" stroke-width="2.2"/>
<line x1="125.6" y1="2110.7" x2="137.4" y2="2110.7" stroke="#000" stroke-width="2.2"/>
<text x="111.2" y="2292.5" font-size="33.5" fill="#000" text-anchor="end">0</text>
<text x="111.2" y="2264.0" font-size="33.5" fill="#000" text-anchor="end">5</text>
<text x="111.2" y="2235.5" font-size="33.5" fill="#000" text-anchor="end">10</text>
<text x="111.2" y="2207.0" font-size="33.5" fill="#000" text-anchor="end">15</text>
<text x="111.2" y="2178.5" font-size="33.5" fill="#000" text-anchor="end">20</text>
<text x="111.2" y="2150.0" font-size="33.5" fill="#000" text-anchor="end">25</text>
<text x="111.2" y="2121.5" font-size="33.5" fill="#000" text-anchor="end">30</text>
<text transform="translate(72.0,2186.0) rotate(-90)" x="0" y="0" font-size="32.6" text-anchor="middle">Elastic modulus(Mpa)</text>
<polygon points="180.3,2110.2 189.9,2126.6 170.7,2126.6" fill="#00f"/>
<polygon points="235.2,2135.8 244.8,2152.2 225.6,2152.2" fill="#00f"/>
<polygon points="290.1,2127.3 299.7,2143.7 280.5,2143.7" fill="#00f"/>
<polygon points="345.1,2136.9 354.7,2153.3 335.5,2153.3" fill="#00f"/>
<polygon points="400.0,2210.5 409.6,2226.9 390.4,2226.9" fill="#00f"/>
<polygon points="454.9,2222.0 464.5,2238.4 445.3,2238.4" fill="#00f"/>
<polygon points="509.8,2222.9 519.4,2239.3 500.2,2239.3" fill="#00f"/>
<polygon points="564.7,2229.1 574.3,2245.5 555.1,2245.5" fill="#00f"/>
<polygon points="619.7,2229.7 629.3,2246.1 610.1,2246.1" fill="#00f"/>
<polygon points="674.6,2233.7 684.2,2250.1 665.0,2250.1" fill="#00f"/>
<polygon points="729.5,2236.5 739.1,2252.9 719.9,2252.9" fill="#00f"/>
<polygon points="784.4,2237.2 794.0,2253.6 774.8,2253.6" fill="#00f"/>
<polygon points="839.3,2248.0 848.9,2264.4 829.7,2264.4" fill="#00f"/>
<polygon points="894.3,2250.4 903.9,2266.8 884.7,2266.8" fill="#00f"/>
<polygon points="949.2,2246.7 958.8,2263.1 939.6,2263.1" fill="#00f"/>
<polygon points="1004.1,2255.4 1013.7,2271.8 994.5,2271.8" fill="#00f"/>
<text transform="translate(165.1,2111.9) scale(1,1.065)" font-size="24.4" fill="#580a82" text-anchor="start">28.2</text>
<text transform="translate(219.7,2137.5) scale(1,1.065)" font-size="24.4" fill="#580a82" text-anchor="start">23.7</text>
<text transform="translate(274.9,2129.0) scale(1,1.065)" font-size="24.4" fill="#580a82" text-anchor="start">25.2</text>
<text transform="translate(329.6,2138.7) scale(1,1.065)" font-size="24.4" fill="#580a82" text-anchor="start">23.5</text>
<text transform="translate(383.9,2212.2) scale(1,1.065)" font-size="24.4" fill="#580a82" text-anchor="start">10.6</text>
<text transform="translate(439.6,2223.7) scale(1,1.065)" font-size="24.4" fill="#580a82" text-anchor="start">8.58</text>
<text transform="translate(494.7,2224.6) scale(1,1.065)" font-size="24.4" fill="#580a82" text-anchor="start">8.42</text>
<text transform="translate(548.8,2230.8) scale(1,1.065)" font-size="24.4" fill="#580a82" text-anchor="start">7.34</text>
<text transform="translate(604.2,2231.4) scale(1,1.065)" font-size="24.4" fill="#580a82" text-anchor="start">7.22</text>
<text transform="translate(659.4,2235.4) scale(1,1.065)" font-size="24.4" fill="#580a82" text-anchor="start">6.52</text>
<text transform="translate(713.8,2238.2) scale(1,1.065)" font-size="24.4" fill="#580a82" text-anchor="start">6.04</text>
<text transform="translate(769.1,2238.9) scale(1,1.065)" font-size="24.4" fill="#580a82" text-anchor="start">5.91</text>
<text transform="translate(824.4,2249.7) scale(1,1.065)" font-size="24.4" fill="#580a82" text-anchor="start">4.02</text>
<text transform="translate(884.8,2252.1) scale(1,1.065)" font-size="24.4" fill="#580a82" text-anchor="start">3.6</text>
<text transform="translate(934.1,2248.4) scale(1,1.065)" font-size="24.4" fill="#580a82" text-anchor="start">4.25</text>
<text transform="translate(988.9,2257.1) scale(1,1.065)" font-size="24.4" fill="#580a82" text-anchor="start">2.72</text>
<path d="M190.1,2125.5L225.4,2142.0M245.9,2144.9L279.5,2139.7M300.8,2139.9L334.4,2145.9M351.5,2156.4L393.5,2212.6M410.6,2223.5L444.3,2230.6M465.7,2233.0L499.0,2233.5M520.6,2234.9L554.0,2238.7M575.5,2240.0L608.9,2240.4M630.4,2241.3L663.8,2243.8M685.4,2245.1L718.7,2246.7M740.3,2247.4L773.6,2247.9M795.0,2250.1L828.7,2256.7M850.1,2259.3L883.5,2260.7M905.0,2260.5L938.4,2258.2M959.8,2259.2L993.4,2264.5" stroke="#00f" stroke-width="3.0" fill="none" stroke-linecap="round"/>
<rect x="159.3" y="2091.8" width="229.2" height="79.9" fill="none" stroke="#c4c4c4" stroke-width="4.2"/>
<rect x="598.3" y="2200.6" width="221.0" height="65.7" fill="none" stroke="#c4c4c4" stroke-width="4.2"/>
<path d="M186.1,2163.2 C192.9,2163.8 212.7,2165.9 226.8,2166.8 C241.0,2167.7 256.2,2168.5 271.0,2168.5 C285.8,2168.5 305.2,2167.3 315.3,2166.8 C325.4,2166.3 328.7,2165.6 331.4,2165.4" fill="none" stroke="#00f" stroke-width="3.0" stroke-linecap="butt"/>
<polygon points="346.3,2164.1 328.9,2171.4 327.9,2159.9" fill="#00f"/>
<path d="M408.2,2184.5 C414.1,2186.0 430.3,2190.6 443.6,2193.3 C456.9,2196.0 473.1,2198.6 487.9,2200.8 C502.7,2203.0 520.7,2205.1 532.2,2206.6 C543.7,2208.1 553.0,2209.4 557.1,2209.9" fill="none" stroke="#00f" stroke-width="3.0" stroke-linecap="butt"/>
<polygon points="572.0,2211.9 553.4,2215.3 554.9,2203.8" fill="#00f"/>
<path d="M625.0,2206.6 C633.8,2207.4 661.1,2210.1 677.7,2211.4 C694.3,2212.7 711.5,2213.6 724.8,2214.2 C738.1,2214.8 749.6,2214.7 757.7,2215.1 C765.8,2215.5 770.7,2216.1 773.3,2216.3" fill="none" stroke="#00f" stroke-width="3.0" stroke-linecap="butt"/>
<polygon points="788.3,2217.5 769.9,2221.9 770.8,2210.3" fill="#00f"/>
<path d="M848.1,2223.6 C855.0,2223.4 874.9,2222.2 889.6,2222.2 C904.4,2222.2 920.9,2222.6 936.6,2223.6 C952.3,2224.6 973.1,2226.7 983.7,2228.3 C994.3,2229.9 997.3,2232.5 1000.0,2233.3" fill="none" stroke="#00f" stroke-width="3.0" stroke-linecap="butt"/>
<polygon points="1014.3,2237.7 995.4,2238.0 998.8,2226.9" fill="#00f"/>
<path d="M615.5,2121.0H642.6M661.8,2121.0H690.1" stroke="#00f" stroke-width="2.9" stroke-linecap="round" fill="none"/>
<polygon points="651.8,2110.2 661.4,2126.6 642.2,2126.6" fill="#00f"/>
<text x="697.2" y="2132.3" font-size="33.3" fill="#000" text-anchor="start">heating time 3h(modulus)</text>
<text x="180.3" y="2321.0" font-size="34" fill="#000" text-anchor="middle">B9</text>
<text x="235.2" y="2321.0" font-size="34" fill="#000" text-anchor="middle">B10</text>
<text x="290.1" y="2321.0" font-size="34" fill="#000" text-anchor="middle">B11</text>
<text x="345.1" y="2321.0" font-size="34" fill="#000" text-anchor="middle">B12</text>
<text x="400.0" y="2321.0" font-size="34" fill="#000" text-anchor="middle">A9</text>
<text x="454.9" y="2321.0" font-size="34" fill="#000" text-anchor="middle">A10</text>
<text x="509.8" y="2321.0" font-size="34" fill="#000" text-anchor="middle">A11</text>
<text x="564.7" y="2321.0" font-size="34" fill="#000" text-anchor="middle">A12</text>
<text x="619.7" y="2321.0" font-size="34" fill="#000" text-anchor="middle">S9</text>
<text x="674.6" y="2321.0" font-size="34" fill="#000" text-anchor="middle">S10</text>
<text x="729.5" y="2321.0" font-size="34" fill="#000" text-anchor="middle">S11</text>
<text x="784.4" y="2321.0" font-size="34" fill="#000" text-anchor="middle">S12</text>
<text x="839.3" y="2321.0" font-size="34" fill="#000" text-anchor="middle">Q9</text>
<text x="894.3" y="2321.0" font-size="34" fill="#000" text-anchor="middle">Q10</text>
<text x="949.2" y="2321.0" font-size="34" fill="#000" text-anchor="middle">Q11</text>
<text x="1004.1" y="2321.0" font-size="34" fill="#000" text-anchor="middle">Q12</text>
<text x="457.6" y="2350.6" font-size="33.6" fill="#000" text-anchor="start">Specimen number</text>
</svg>
</body></html>
